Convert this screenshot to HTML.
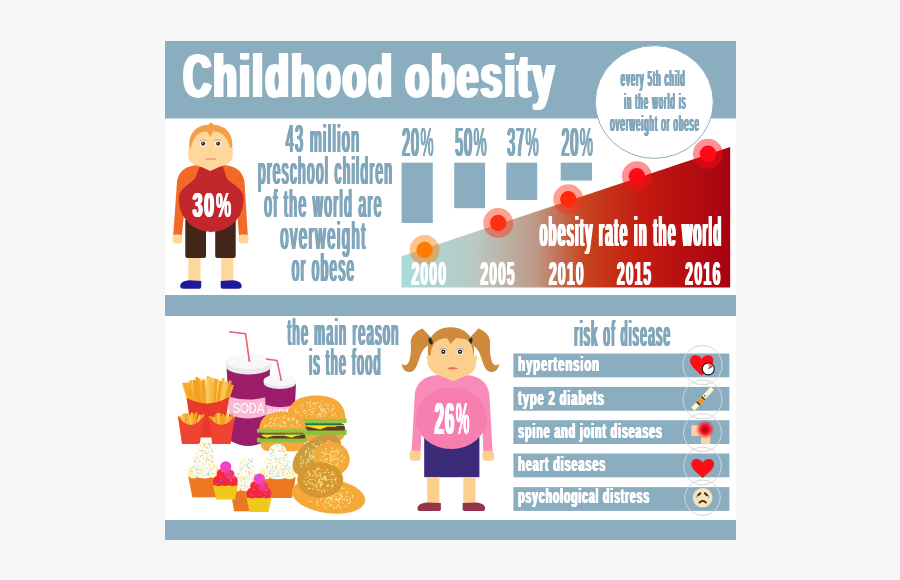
<!DOCTYPE html>
<html lang="en">
<head>
<meta charset="utf-8">
<title>Childhood obesity</title>
<style>
html,body{margin:0;padding:0;background:#f6f6f6;}
body{width:900px;height:580px;overflow:hidden;}
svg{display:block;}
text{font-family:"Liberation Sans",sans-serif;font-weight:bold;}
.bl{fill:#82a7bb;}
.wh{fill:#ffffff;}
.rg{font-weight:normal;}
</style>
</head>
<body>
<svg width="900" height="580" viewBox="0 0 900 580">
<defs>
<linearGradient id="tri" x1="401" y1="0" x2="736" y2="0" gradientUnits="userSpaceOnUse">
<stop offset="0" stop-color="#a9dcdc"/>
<stop offset="0.22" stop-color="#b9c9c2"/>
<stop offset="0.40" stop-color="#bf9a88"/>
<stop offset="0.55" stop-color="#c6431f"/>
<stop offset="0.72" stop-color="#c41a10"/>
<stop offset="1" stop-color="#a50012"/>
</linearGradient>
<linearGradient id="gsec" x1="0" y1="1" x2="1" y2="0"><stop offset="0" stop-color="#ffd6d6"/><stop offset="1" stop-color="#f0203a"/></linearGradient>
<radialGradient id="spot"><stop offset="0" stop-color="#b00010"/><stop offset="0.45" stop-color="#f01020"/><stop offset="1" stop-color="#ff2030" stop-opacity="0"/></radialGradient>
</defs>
<rect x="0" y="0" width="900" height="580" fill="#f6f6f6"/>
<rect x="165" y="41" width="571" height="499" fill="#ffffff"/>
<rect x="165" y="41" width="571" height="77.5" fill="#8aaec0"/>
<rect x="165" y="295" width="571" height="21" fill="#8aaec0"/>
<rect x="165" y="520" width="571" height="20" fill="#8aaec0"/>
<g id="title"><text id="t1" class="wh" x="183.4" y="97" font-size="61" textLength="373.1" lengthAdjust="spacingAndGlyphs" letter-spacing="4" word-spacing="-3">Childhood obesity</text><use href="#t1" x="-2"/><use href="#t1" x="2"/><use href="#t1" x="-0.5"/><use href="#t1" x="0.5"/>
</g>
<g id="bubble"><ellipse cx="654.3" cy="102" rx="59" ry="56.4" fill="#ffffff" stroke="#8aaec0" stroke-width="1"/>
<text id="t2" class="bl rg" x="620.8" y="85.9" font-size="22" textLength="64.8" lengthAdjust="spacingAndGlyphs" letter-spacing="3">every 5th child</text><use href="#t2" x="-0.7"/><use href="#t2" x="0.7"/><use href="#t2" x="-0.4"/><use href="#t2" x="0.4"/><use href="#t2" x="-0.1"/><use href="#t2" x="0.1"/>
<text id="t3" class="bl rg" x="624.2" y="108.5" font-size="22" textLength="62.3" lengthAdjust="spacingAndGlyphs" letter-spacing="3">in the world is</text><use href="#t3" x="-0.7"/><use href="#t3" x="0.7"/><use href="#t3" x="-0.4"/><use href="#t3" x="0.4"/><use href="#t3" x="-0.1"/><use href="#t3" x="0.1"/>
<text id="t4" class="bl rg" x="610.2" y="131" font-size="22" textLength="89.8" lengthAdjust="spacingAndGlyphs" letter-spacing="3">overweight or obese</text><use href="#t4" x="-0.7"/><use href="#t4" x="0.7"/><use href="#t4" x="-0.4"/><use href="#t4" x="0.4"/><use href="#t4" x="-0.1"/><use href="#t4" x="0.1"/>
</g>
<g id="t43"><text id="t5" class="bl rg" x="285.9" y="151.7" font-size="38.5" textLength="74.8" lengthAdjust="spacingAndGlyphs" letter-spacing="4.5">43 million</text><use href="#t5" x="-0.9"/><use href="#t5" x="0.9"/><use href="#t5" x="-0.5"/><use href="#t5" x="0.5"/><use href="#t5" x="-0.1"/><use href="#t5" x="0.1"/>
<text id="t6" class="bl rg" x="258.1" y="184.2" font-size="38.5" textLength="135.3" lengthAdjust="spacingAndGlyphs" letter-spacing="4.5">preschool children</text><use href="#t6" x="-0.9"/><use href="#t6" x="0.9"/><use href="#t6" x="-0.5"/><use href="#t6" x="0.5"/><use href="#t6" x="-0.1"/><use href="#t6" x="0.1"/>
<text id="t7" class="bl rg" x="264.3" y="216.9" font-size="38.5" textLength="118.6" lengthAdjust="spacingAndGlyphs" letter-spacing="4.5">of the world are</text><use href="#t7" x="-0.9"/><use href="#t7" x="0.9"/><use href="#t7" x="-0.5"/><use href="#t7" x="0.5"/><use href="#t7" x="-0.1"/><use href="#t7" x="0.1"/>
<text id="t8" class="bl rg" x="280.4" y="249.1" font-size="38.5" textLength="86.6" lengthAdjust="spacingAndGlyphs" letter-spacing="4.5">overweight</text><use href="#t8" x="-0.9"/><use href="#t8" x="0.9"/><use href="#t8" x="-0.5"/><use href="#t8" x="0.5"/><use href="#t8" x="-0.1"/><use href="#t8" x="0.1"/>
<text id="t9" class="bl rg" x="291.8" y="281.3" font-size="38.5" textLength="63.8" lengthAdjust="spacingAndGlyphs" letter-spacing="4.5">or obese</text><use href="#t9" x="-0.9"/><use href="#t9" x="0.9"/><use href="#t9" x="-0.5"/><use href="#t9" x="0.5"/><use href="#t9" x="-0.1"/><use href="#t9" x="0.1"/>
</g>
<g id="bars"><g fill="#8aaec0">
<rect x="401.6" y="162.7" width="31.2" height="60.3"/>
<rect x="454.2" y="162.7" width="30.9" height="45.5"/>
<rect x="506.3" y="162.7" width="30.9" height="37.3"/>
<rect x="560.7" y="162.7" width="31.3" height="17.9"/>
</g>
<clipPath id="c10"><rect x="398.3" y="115.8" width="21.58" height="52.65"/></clipPath><text id="t10" class="bl rg" y="156.3" font-size="40.5"><tspan x="402.3" textLength="17.7" lengthAdjust="spacingAndGlyphs" letter-spacing="3.5">20</tspan><tspan x="420.4" textLength="13.2" lengthAdjust="spacingAndGlyphs">%</tspan></text><use href="#t10" x="-0.95" clip-path="url(#c10)"/><use href="#t10" x="0.95" clip-path="url(#c10)"/><use href="#t10" x="-0.55" clip-path="url(#c10)"/><use href="#t10" x="0.55" clip-path="url(#c10)"/><use href="#t10" x="-0.45"/><use href="#t10" x="0.45"/>
<clipPath id="c11"><rect x="451.4" y="115.8" width="21.58" height="52.65"/></clipPath><text id="t11" class="bl rg" y="156.3" font-size="40.5"><tspan x="455.4" textLength="17.7" lengthAdjust="spacingAndGlyphs" letter-spacing="3.5">50</tspan><tspan x="473.5" textLength="13.2" lengthAdjust="spacingAndGlyphs">%</tspan></text><use href="#t11" x="-0.95" clip-path="url(#c11)"/><use href="#t11" x="0.95" clip-path="url(#c11)"/><use href="#t11" x="-0.55" clip-path="url(#c11)"/><use href="#t11" x="0.55" clip-path="url(#c11)"/><use href="#t11" x="-0.45"/><use href="#t11" x="0.45"/>
<clipPath id="c12"><rect x="503.4" y="115.8" width="21.58" height="52.65"/></clipPath><text id="t12" class="bl rg" y="156.3" font-size="40.5"><tspan x="507.4" textLength="17.7" lengthAdjust="spacingAndGlyphs" letter-spacing="3.5">37</tspan><tspan x="525.5" textLength="13.2" lengthAdjust="spacingAndGlyphs">%</tspan></text><use href="#t12" x="-0.95" clip-path="url(#c12)"/><use href="#t12" x="0.95" clip-path="url(#c12)"/><use href="#t12" x="-0.55" clip-path="url(#c12)"/><use href="#t12" x="0.55" clip-path="url(#c12)"/><use href="#t12" x="-0.45"/><use href="#t12" x="0.45"/>
<clipPath id="c13"><rect x="557.6" y="115.8" width="21.58" height="52.65"/></clipPath><text id="t13" class="bl rg" y="156.3" font-size="40.5"><tspan x="561.6" textLength="17.7" lengthAdjust="spacingAndGlyphs" letter-spacing="3.5">20</tspan><tspan x="579.7" textLength="13.2" lengthAdjust="spacingAndGlyphs">%</tspan></text><use href="#t13" x="-0.95" clip-path="url(#c13)"/><use href="#t13" x="0.95" clip-path="url(#c13)"/><use href="#t13" x="-0.55" clip-path="url(#c13)"/><use href="#t13" x="0.55" clip-path="url(#c13)"/><use href="#t13" x="-0.45"/><use href="#t13" x="0.45"/>
</g>
<g id="chart"><polygon points="401.5,256.3 730.2,147 730.2,287.5 401.5,287.5" fill="url(#tri)"/>
<circle cx="424.6" cy="250" r="15" fill="#ff7a00" fill-opacity="0.45"/><circle cx="424.6" cy="250" r="8.2" fill="#ff7a00"/>
<circle cx="498.2" cy="223" r="15" fill="#ff3010" fill-opacity="0.45"/><circle cx="498.2" cy="223" r="8.2" fill="#ff3010"/>
<circle cx="568.3" cy="199.3" r="15" fill="#ff2a0a" fill-opacity="0.45"/><circle cx="568.3" cy="199.3" r="8.2" fill="#ff2a0a"/>
<circle cx="636.9" cy="176.3" r="15" fill="#ff0a14" fill-opacity="0.45"/><circle cx="636.9" cy="176.3" r="8.2" fill="#ff0a14"/>
<circle cx="708" cy="153.8" r="15" fill="#ff0a14" fill-opacity="0.45"/><circle cx="708" cy="153.8" r="8.2" fill="#ff0a14"/>
<text id="t14" class="wh" x="411.5" y="285.4" font-size="33.5" textLength="35.9" lengthAdjust="spacingAndGlyphs" letter-spacing="3">2000</text><use href="#t14" x="-0.65"/><use href="#t14" x="0.65"/>
<text id="t15" class="wh" x="480.5" y="285.4" font-size="33.5" textLength="35.3" lengthAdjust="spacingAndGlyphs" letter-spacing="3">2005</text><use href="#t15" x="-0.65"/><use href="#t15" x="0.65"/>
<text id="t16" class="wh" x="549" y="285.4" font-size="33.5" textLength="35.9" lengthAdjust="spacingAndGlyphs" letter-spacing="3">2010</text><use href="#t16" x="-0.65"/><use href="#t16" x="0.65"/>
<text id="t17" class="wh" x="617" y="285.4" font-size="33.5" textLength="35.3" lengthAdjust="spacingAndGlyphs" letter-spacing="3">2015</text><use href="#t17" x="-0.65"/><use href="#t17" x="0.65"/>
<text id="t18" class="wh" x="685.2" y="285.4" font-size="33.5" textLength="36.5" lengthAdjust="spacingAndGlyphs" letter-spacing="3">2016</text><use href="#t18" x="-0.65"/><use href="#t18" x="0.65"/>
<text id="t19" class="wh rg" x="539.9" y="246.3" font-size="40" textLength="182.8" lengthAdjust="spacingAndGlyphs" letter-spacing="5.5">obesity rate in the world</text><use href="#t19" x="-1.15"/><use href="#t19" x="1.15"/><use href="#t19" x="-0.75"/><use href="#t19" x="0.75"/><use href="#t19" x="-0.35"/><use href="#t19" x="0.35"/>
</g>
<g id="boy"><path d="M189.6,150 C187.5,137 193,124.6 210.5,124.6 C228.5,124.6 234,137 231.9,150 Z" fill="#f4a04a"/>
<path d="M206.5,126 L211.2,122.3 L214.5,126 Z" fill="#f4a04a"/>
<circle cx="189.8" cy="149.5" r="1.8" fill="#fdd79c"/><circle cx="231.6" cy="149.5" r="1.8" fill="#fdd79c"/>
<path d="M199,165 C189,165.3 178.6,169 177,182 L173.2,235.5 L181.8,235.5 L185,205 L236.5,205 L239,235.5 L247.8,235.5 L244.5,182 C243,169 232,165.3 222.5,165 Z" fill="#f26a27"/>
<path d="M185.3,220 L235.7,220 L235.7,256 Q235.7,258 233.7,258 L217.2,258 Q215.2,258 215.2,256 L215.2,231 L206,231 L206,256 Q206,258 204,258 L187.3,258 Q185.3,258 185.3,256 Z" fill="#42261a"/>
<path d="M200.2,165 L222.4,165 L226.9,178.7 C231,183 240,187 243.3,194.5 A32.5,32.5 0 1 1 179.1,194.5 C182.4,187 191,183 194.9,178.7 Z" fill="#c1272d"/>
<path d="M191,147.5 C193,137 199,131.5 207,131.5 L210.4,137 L213.2,131.5 C221.5,131.5 227.5,137 230.2,147.5 C234,151 233.5,159 229.5,162.5 C226,165.5 221,166 218,167.6 L210.3,171 L202.5,167.6 C199,166 194.5,165.5 191,162.5 C187.2,159 187,151 191,147.5 Z" fill="#fdd79c"/>
<path d="M199.9,140.6 Q203.1,139.2 206.3,140.6" stroke="#c98a4a" stroke-width="0.8" fill="none"/><circle cx="203.1" cy="143.5" r="3.1" fill="#ffffff"/><circle cx="203.1" cy="143.6" r="2.1" fill="#2b3140"/><circle cx="202.6" cy="143" r="0.6" fill="#ffffff"/>
<path d="M214.9,140.6 Q218.1,139.2 221.3,140.6" stroke="#c98a4a" stroke-width="0.8" fill="none"/><circle cx="218.1" cy="143.5" r="3.1" fill="#ffffff"/><circle cx="218.1" cy="143.6" r="2.1" fill="#2b3140"/><circle cx="217.6" cy="143" r="0.6" fill="#ffffff"/>
<path d="M210.6,146 L210.2,153.5" stroke="#f9cd92" stroke-width="1.2" fill="none"/>
<path d="M206.2,159 L215.2,159" stroke="#f5a983" stroke-width="1.9" stroke-linecap="round" fill="none"/>
<rect x="172.4" y="234.6" width="9.9" height="9" rx="3" fill="#fdd79c"/><rect x="238.6" y="234.6" width="9.9" height="9" rx="3" fill="#fdd79c"/>
<rect x="188.3" y="258" width="12.2" height="24" fill="#fdd79c"/><rect x="221.2" y="258" width="12.2" height="24" fill="#fdd79c"/>
<path d="M183.5,288.8 Q179.8,288.8 180.3,285.3 Q181,281 189.5,280.3 L201.2,281 L201.2,287 Q201.2,288.8 199.4,288.8 Z" fill="#1c1a9c"/><path d="M220.7,281 L232.4,280.3 Q240.9,281 241.6,285.3 Q242.1,288.8 238.4,288.8 L222.5,288.8 Q220.7,288.8 220.7,287 Z" fill="#1c1a9c"/>
<clipPath id="c20"><rect x="188.7" y="182.1" width="26.72" height="45.5"/></clipPath><text id="t20" class="wh" y="217.1" font-size="35"><tspan x="192.7" textLength="22.9" lengthAdjust="spacingAndGlyphs" letter-spacing="3">30</tspan><tspan x="215.9" textLength="15.3" lengthAdjust="spacingAndGlyphs">%</tspan></text><use href="#t20" x="-0.85" clip-path="url(#c20)"/><use href="#t20" x="0.85" clip-path="url(#c20)"/><use href="#t20" x="-0.3"/><use href="#t20" x="0.3"/>
</g>
<g id="lowertext"><text id="t21" class="bl rg" x="287.6" y="344.7" font-size="36" textLength="112.3" lengthAdjust="spacingAndGlyphs" letter-spacing="4.5">the main reason</text><use href="#t21" x="-0.9"/><use href="#t21" x="0.9"/><use href="#t21" x="-0.5"/><use href="#t21" x="0.5"/><use href="#t21" x="-0.1"/><use href="#t21" x="0.1"/>
<text id="t22" class="bl rg" x="309.3" y="374.7" font-size="36" textLength="72.6" lengthAdjust="spacingAndGlyphs" letter-spacing="4.5">is the food</text><use href="#t22" x="-0.9"/><use href="#t22" x="0.9"/><use href="#t22" x="-0.5"/><use href="#t22" x="0.5"/><use href="#t22" x="-0.1"/><use href="#t22" x="0.1"/>
<text id="t23" class="bl rg" x="574.5" y="346.1" font-size="35" textLength="97.1" lengthAdjust="spacingAndGlyphs" letter-spacing="4.5">risk of disease</text><use href="#t23" x="-0.9"/><use href="#t23" x="0.9"/><use href="#t23" x="-0.5"/><use href="#t23" x="0.5"/><use href="#t23" x="-0.1"/><use href="#t23" x="0.1"/>
</g>
<g id="rows"><g fill="#8aaec0">
<rect x="513.4" y="353.5" width="216" height="23.8"/>
<rect x="513.4" y="386.9" width="216" height="23.8"/>
<rect x="513.4" y="420.2" width="216" height="23.8"/>
<rect x="513.4" y="453.5" width="216" height="23.8"/>
<rect x="513.4" y="487.1" width="216" height="23.8"/>
</g>
<text id="t24" class="wh" x="518.2" y="371.1" font-size="20" textLength="81.7" lengthAdjust="spacingAndGlyphs" letter-spacing="1.5">hypertension</text><use href="#t24" x="-0.6"/><use href="#t24" x="0.6"/>
<text id="t25" class="wh" x="518.2" y="404.5" font-size="20" textLength="86.5" lengthAdjust="spacingAndGlyphs" letter-spacing="1.5">type 2 diabets</text><use href="#t25" x="-0.6"/><use href="#t25" x="0.6"/>
<text id="t26" class="wh" x="518.2" y="437.6" font-size="20" textLength="144.6" lengthAdjust="spacingAndGlyphs" letter-spacing="1.5">spine and joint diseases</text><use href="#t26" x="-0.6"/><use href="#t26" x="0.6"/>
<text id="t27" class="wh" x="518.2" y="471.1" font-size="20" textLength="88" lengthAdjust="spacingAndGlyphs" letter-spacing="1.5">heart diseases</text><use href="#t27" x="-0.6"/><use href="#t27" x="0.6"/>
<text id="t28" class="wh" x="518.2" y="502.8" font-size="20" textLength="131.8" lengthAdjust="spacingAndGlyphs" letter-spacing="1.5">psychological distress</text><use href="#t28" x="-0.6"/><use href="#t28" x="0.6"/>
</g>
<g id="icons"><path d="M701.7,359.276 C699.844,354.284 690.1,353.036 690.1,360.94 C690.1,366.14 697.524,371.34 701.7,375.5 C705.876,371.34 713.3,366.14 713.3,360.94 C713.3,353.036 703.556,354.284 701.7,359.276 Z" fill="#ff0d16"/>
<circle cx="708.3" cy="368.9" r="6" fill="#ffffff" stroke="#1a1a1a" stroke-width="1.1"/><path d="M708.3,368.9 L708.3,363.4 A5.5,5.5 0 0 1 713.1,366.2 Z" fill="url(#gsec)"/><path d="M708.3,368.9 L712.2,366.4" stroke="#1a1a1a" stroke-width="0.8" fill="none"/>
<g transform="translate(702.6,398.7) rotate(-47)"><rect x="-14.3" y="-2.3" width="28.6" height="4.6" fill="#fff6d0"/><rect x="-6" y="-2.3" width="6.4" height="4.6" fill="#f7941d"/><rect x="-7" y="-2.3" width="1.3" height="4.6" fill="#1a1a1a"/><rect x="0.2" y="-2.3" width="1.3" height="4.6" fill="#1a1a1a"/><rect x="3.2" y="-1.2" width="0.9" height="1.6" fill="#1a1a1a"/></g>
<path d="M691.3,425.3 L710.4,425.3 L710.4,444 L701,444 L701,436 L691.3,436 Z" fill="#fbd3a0"/><circle cx="705.2" cy="429.4" r="9.5" fill="url(#spot)"/>
<path d="M702.7,462.712 C700.876,458.008 691.3,456.832 691.3,464.28 C691.3,469.18 698.596,474.08 702.7,478 C706.804,474.08 714.1,469.18 714.1,464.28 C714.1,456.832 704.524,458.008 702.7,462.712 Z" fill="#ff0d16"/>
<circle cx="702.6" cy="497.7" r="9.8" fill="#fbe0b8"/><path d="M698.2,495.2 L700.3,493.2 M707,495.2 L704.9,493.2" stroke="#2a2a2a" stroke-width="2" stroke-linecap="round" fill="none"/><path d="M697,494.6 Q695.4,497.2 696.9,498.2 Q698.5,497.4 697,494.6 Z M708.4,494.6 Q706.9,497.4 708.5,498.2 Q710,497.2 708.4,494.6 Z" fill="#5ab8e8"/><path d="M699.4,502.6 Q702.7,499 706,502.6" stroke="#2a2a2a" stroke-width="1.7" fill="none" stroke-linecap="round"/>
</g>
<g id="iconcircles"><g fill="none" stroke="#d6d6d6" stroke-width="1">
<circle cx="702.5" cy="365.2" r="19.6"/>
<circle cx="702.5" cy="399.5" r="19.5"/>
<circle cx="702.5" cy="432.6" r="19"/>
<circle cx="702.5" cy="466" r="18.8"/>
<circle cx="702.5" cy="497.7" r="17.7"/>
</g>
</g>
<g id="girl"><path d="M431.5,338 L422.5,328.5 C416,331 410.6,336 410.8,342.5 C411,349 411.2,355 409.2,361 C407.8,365.5 404,366.5 401.8,363.6 C402,369.5 406,372.8 410.6,372 C416.2,371 418,362 421,354 C423.5,348 427,345.5 431.5,344.5 Z" fill="#cf8a3c"/>
<path d="M431.5,338 L422.5,328.5 C416,331 410.6,336 410.8,342.5 C411,349 411.2,355 409.2,361 C407.8,365.5 404,366.5 401.8,363.6 C402,369.5 406,372.8 410.6,372 C416.2,371 418,362 421,354 C423.5,348 427,345.5 431.5,344.5 Z" fill="#cf8a3c" transform="translate(900.9,0) scale(-1,1)"/>
<path d="M428.6,358 C425,340 434,327.3 450.6,327.3 C467.5,327.3 476.5,340 473.5,358 Z" fill="#cf8a3c"/>
<ellipse cx="430.6" cy="341.2" rx="1.9" ry="3.6" fill="#1f3324" transform="rotate(-18 430.6 341.2)"/><ellipse cx="470.4" cy="341.2" rx="1.9" ry="3.6" fill="#1f3324" transform="rotate(18 470.4 341.2)"/>
<path d="M438,375 C428,375.5 416.5,380 414.8,394.6 L411.6,451.5 L420.6,451.5 L421.6,430 L482.4,430 L483.3,451.5 L492.6,451.5 L489.4,394.6 C487.7,380 476,375.5 466,375 Z" fill="#f98bb8"/>
<rect x="424.2" y="430" width="55.2" height="47.2" fill="#3b2a78"/>
<ellipse cx="451.3" cy="418.3" rx="35.7" ry="30.7" fill="#f77fb0"/>
<circle cx="428.6" cy="357.5" r="2.2" fill="#fbd08f"/><circle cx="475.2" cy="357.5" r="2.2" fill="#fbd08f"/>
<path d="M430.4,355.4 C431.5,346 434.5,341.5 438.5,340 C442,338.5 444.5,338.3 447,338.3 L450.7,344 L455.8,338.3 C460,338.3 463.5,338.8 466.5,339.8 C470.5,341.5 472.5,346 473.3,354.2 C477.5,357.5 477.5,366 473,371.5 C469.5,375.5 464,376.5 460.5,378 L453.4,381.3 L446,378 C442.5,376.5 436.5,375.5 432.5,371.5 C426.5,366 426.3,358.5 430.4,355.4 Z" fill="#fbd08f"/>
<path d="M439.7,349.3 Q443.3,346.6 446.9,349.3 L446.5,350.5 Q443.3,348.6 440.1,350.5 Z" fill="#a79cc4"/><circle cx="443.3" cy="351.7" r="3" fill="#ffffff"/><circle cx="443.3" cy="351.8" r="2.2" fill="#221c2c"/><circle cx="443.3" cy="351.6" r="0.8" fill="#ffffff"/>
<path d="M456.5,349.3 Q460.1,346.6 463.7,349.3 L463.3,350.5 Q460.1,348.6 456.9,350.5 Z" fill="#a79cc4"/><circle cx="460.1" cy="351.7" r="3" fill="#ffffff"/><circle cx="460.1" cy="351.8" r="2.2" fill="#221c2c"/><circle cx="460.1" cy="351.6" r="0.8" fill="#ffffff"/>
<path d="M452,354.5 L451.7,361.5" stroke="#f7c784" stroke-width="1.2" fill="none"/>
<path d="M447.6,368.4 Q452.4,366.6 457.4,368.4 Q452.4,370 447.6,368.4 Z" fill="#ee6a5a" stroke="#ee6a5a" stroke-width="0.8" stroke-linejoin="round"/>
<rect x="409.6" y="450.8" width="11.2" height="10" rx="3" fill="#fbd08f"/><rect x="482.6" y="450.8" width="11.4" height="10" rx="3" fill="#fbd08f"/>
<rect x="427.2" y="477" width="12.2" height="26.5" fill="#fbd08f"/><rect x="463.3" y="477" width="12.2" height="26.5" fill="#fbd08f"/>
<path d="M420.6,511 Q417,511 417.5,507.6 Q418.2,503.2 426.5,502.4 L440.9,503 L440.9,509.2 Q440.9,511 439.1,511 Z" fill="#96344b"/><path d="M462.6,503 L477,502.4 Q484.4,503.2 485.1,507.6 Q485.6,511 482,511 L464.4,511 Q462.6,511 462.6,509.2 Z" fill="#96344b"/>
<clipPath id="c29"><rect x="430.6" y="389.9" width="24.72" height="57.2"/></clipPath><text id="t29" class="wh" y="433.9" font-size="44"><tspan x="434.6" textLength="20.9" lengthAdjust="spacingAndGlyphs" letter-spacing="3">26</tspan><tspan x="455.8" textLength="13.7" lengthAdjust="spacingAndGlyphs">%</tspan></text><use href="#t29" x="-0.8" clip-path="url(#c29)"/><use href="#t29" x="0.8" clip-path="url(#c29)"/><use href="#t29" x="-0.3"/><use href="#t29" x="0.3"/>
</g>
<g id="food"><path d="M226.5,366 L270.2,366 L266,441 Q248.3,451 230.7,441 Z" fill="#9b1d6a"/>
<path d="M228.1,396.6 Q248.3,402.6 268.6,396.6 L267.6,414.4 Q248.3,422.4 229.2,414.4 Z" fill="#f9b8d6"/>
<text x="232.8" y="413" class="rg" font-size="14" fill="#ffffff" textLength="31.5" lengthAdjust="spacingAndGlyphs">SODA</text>
<path d="M225.8,361.5 L225.8,366 A22.8,8.4 0 0 0 271.4,366 L271.4,361.5 Z" fill="#e9e9ed"/><ellipse cx="248.6" cy="361.3" rx="22.8" ry="7.6" fill="#f8f8fa"/>
<ellipse cx="249.3" cy="361" rx="1.6" ry="0.8" fill="#9a9aa2"/><polyline points="229.2,331.7 245.6,333.8 249.3,360.9" fill="none" stroke="#f15a6c" stroke-width="1.6" stroke-linejoin="round"/>
<path d="M264.5,384 L296,384 L293,446 L267.5,446 Z" fill="#9b1d6a"/>
<path d="M265.4,404.8 Q280.2,409.6 295,404.8 L294.4,417 Q280.2,422 266,417 Z" fill="#f9b8d6"/>
<text x="267.4" y="416.8" class="rg" font-size="10" fill="#ffffff" textLength="22" lengthAdjust="spacingAndGlyphs">SODA</text>
<path d="M263.7,380.5 L263.7,383 A16.15,6 0 0 0 296,383 L296,380.5 Z" fill="#e9e9ed"/><ellipse cx="279.85" cy="380.2" rx="16.2" ry="5.7" fill="#f8f8fa"/>
<ellipse cx="281.2" cy="380" rx="1.4" ry="0.7" fill="#9a9aa2"/><polyline points="266.1,359.1 277,360.4 281.2,379.9" fill="none" stroke="#f15a6c" stroke-width="1.5" stroke-linejoin="round"/>
<path d="M186.6,398 L229.1,396.5 L227,404 L189,404 Z" fill="#b8402e"/>
<line x1="198.6" y1="405.0" x2="196.2" y2="380.3" stroke="#f6a623" stroke-width="2.9"/><line x1="219.1" y1="405.0" x2="223.4" y2="378.1" stroke="#f9bd45" stroke-width="2.9"/><line x1="224.3" y1="405.0" x2="230.4" y2="380.7" stroke="#f4a020" stroke-width="2.9"/><line x1="215.7" y1="405.0" x2="217.8" y2="379.4" stroke="#fbc95a" stroke-width="2.9"/><line x1="202.0" y1="405.0" x2="199.0" y2="378.3" stroke="#f7b23a" stroke-width="2.9"/><line x1="214.0" y1="405.0" x2="216.3" y2="379.0" stroke="#f5a21c" stroke-width="2.9"/><line x1="226.0" y1="405.0" x2="232.6" y2="384.9" stroke="#f6a623" stroke-width="2.9"/><line x1="222.6" y1="405.0" x2="226.9" y2="382.3" stroke="#f9bd45" stroke-width="2.9"/><line x1="200.3" y1="405.0" x2="196.8" y2="377.1" stroke="#f4a020" stroke-width="2.9"/><line x1="220.9" y1="405.0" x2="226.0" y2="381.4" stroke="#fbc95a" stroke-width="2.9"/><line x1="212.3" y1="405.0" x2="214.1" y2="378.3" stroke="#f7b23a" stroke-width="2.9"/><line x1="217.4" y1="405.0" x2="220.9" y2="381.0" stroke="#f5a21c" stroke-width="2.9"/><line x1="203.7" y1="405.0" x2="202.1" y2="380.5" stroke="#f6a623" stroke-width="2.9"/><line x1="190.0" y1="405.0" x2="183.2" y2="382.7" stroke="#f9bd45" stroke-width="2.9"/><line x1="205.4" y1="405.0" x2="203.7" y2="379.5" stroke="#f4a020" stroke-width="2.9"/><line x1="208.9" y1="405.0" x2="208.2" y2="377.0" stroke="#fbc95a" stroke-width="2.9"/><line x1="195.1" y1="405.0" x2="190.5" y2="380.3" stroke="#f7b23a" stroke-width="2.9"/><line x1="193.4" y1="405.0" x2="188.0" y2="382.5" stroke="#f5a21c" stroke-width="2.9"/><line x1="191.7" y1="405.0" x2="184.8" y2="383.0" stroke="#f6a623" stroke-width="2.9"/><line x1="210.6" y1="405.0" x2="210.7" y2="377.3" stroke="#f9bd45" stroke-width="2.9"/><line x1="196.9" y1="405.0" x2="193.9" y2="379.9" stroke="#f4a020" stroke-width="2.9"/><line x1="207.1" y1="405.0" x2="207.9" y2="375.9" stroke="#fbc95a" stroke-width="2.9"/>
<path d="M186.6,398 Q208,409.4 229.1,396.8 L223.5,437.5 L192.5,437.5 Z" fill="#e8392b"/>
<line x1="199.5" y1="427.0" x2="203.6" y2="414.3" stroke="#f6a623" stroke-width="2.3"/><line x1="184.5" y1="427.0" x2="182.7" y2="413.9" stroke="#f9bd45" stroke-width="2.3"/><line x1="183.0" y1="427.0" x2="180.2" y2="416.5" stroke="#f4a020" stroke-width="2.3"/><line x1="190.5" y1="427.0" x2="190.4" y2="414.6" stroke="#fbc95a" stroke-width="2.3"/><line x1="181.5" y1="427.0" x2="178.8" y2="415.7" stroke="#f7b23a" stroke-width="2.3"/><line x1="186.0" y1="427.0" x2="185.3" y2="413.5" stroke="#f5a21c" stroke-width="2.3"/><line x1="187.5" y1="427.0" x2="186.6" y2="413.8" stroke="#f6a623" stroke-width="2.3"/><line x1="192.0" y1="427.0" x2="191.9" y2="412.5" stroke="#f9bd45" stroke-width="2.3"/><line x1="198.0" y1="427.0" x2="201.6" y2="415.1" stroke="#f4a020" stroke-width="2.3"/><line x1="196.5" y1="427.0" x2="199.9" y2="414.8" stroke="#fbc95a" stroke-width="2.3"/><line x1="189.0" y1="427.0" x2="187.6" y2="413.1" stroke="#f7b23a" stroke-width="2.3"/><line x1="195.0" y1="427.0" x2="196.3" y2="412.4" stroke="#f5a21c" stroke-width="2.3"/><line x1="193.5" y1="427.0" x2="194.5" y2="414.1" stroke="#f6a623" stroke-width="2.3"/>
<path d="M177.9,416.3 Q190.7,433.6 203.5,416.3 L199.8,444 L182,444 Z" fill="#f04432"/>
<line x1="224.8" y1="427.0" x2="224.9" y2="415.5" stroke="#f6a623" stroke-width="2.3"/><line x1="226.4" y1="427.0" x2="227.4" y2="413.2" stroke="#f9bd45" stroke-width="2.3"/><line x1="223.3" y1="427.0" x2="223.0" y2="413.8" stroke="#f4a020" stroke-width="2.3"/><line x1="218.7" y1="427.0" x2="217.7" y2="412.9" stroke="#fbc95a" stroke-width="2.3"/><line x1="227.9" y1="427.0" x2="229.4" y2="416.6" stroke="#f7b23a" stroke-width="2.3"/><line x1="214.0" y1="427.0" x2="212.1" y2="416.4" stroke="#f5a21c" stroke-width="2.3"/><line x1="212.5" y1="427.0" x2="209.5" y2="416.3" stroke="#f6a623" stroke-width="2.3"/><line x1="215.6" y1="427.0" x2="214.1" y2="417.1" stroke="#f9bd45" stroke-width="2.3"/><line x1="217.1" y1="427.0" x2="215.8" y2="414.5" stroke="#f4a020" stroke-width="2.3"/><line x1="231.0" y1="427.0" x2="234.4" y2="416.0" stroke="#fbc95a" stroke-width="2.3"/><line x1="220.2" y1="427.0" x2="219.6" y2="413.1" stroke="#f7b23a" stroke-width="2.3"/><line x1="221.8" y1="427.0" x2="221.0" y2="415.9" stroke="#f5a21c" stroke-width="2.3"/><line x1="229.5" y1="427.0" x2="232.3" y2="413.6" stroke="#f6a623" stroke-width="2.3"/>
<path d="M208.3,416.3 Q221.6,433.6 235,415.8 L230.6,444 L212.3,444 Z" fill="#f04432"/>
<path d="M288.2,434 L344.4,434 Q344.4,441 335.4,441 L297.2,441 Q288.2,441 288.2,434 Z" fill="#f4a93a"/>
<path d="M284.9,429.54 L346.6,429.54 L346.6,434.3 Q344.396,436.5 342.193,434.3 Q339.989,436.5 337.786,434.3 Q335.582,436.5 333.379,434.3 Q331.175,436.5 328.971,434.3 Q326.768,436.5 324.564,434.3 Q322.361,436.5 320.157,434.3 Q317.954,436.5 315.75,434.3 Q313.546,436.5 311.343,434.3 Q309.139,436.5 306.936,434.3 Q304.732,436.5 302.529,434.3 Q300.325,436.5 298.121,434.3 Q295.918,436.5 293.714,434.3 Q291.511,436.5 289.307,434.3 Q287.104,436.5 284.9,434.3 Z" fill="#86c440"/>
<rect x="287.7" y="425.8" width="57.2" height="4.59" rx="1.2" fill="#6a3a20"/>
<path d="M295.2,425.12 L340.4,425.12 L335.4,426.82 L327.3,426.82 L320.3,429.54 L308.3,426.82 Z" fill="#f7e11a"/>
<rect x="288.7" y="423.93" width="55.2" height="1.36" fill="#1f7a3c"/>
<rect x="290.2" y="422.23" width="52.2" height="1.87" rx="0.8" fill="#e83a2e"/>
<path d="M284.9,418.7 Q286.957,417.1 289.013,418.7 Q291.07,417.1 293.127,418.7 Q295.183,417.1 297.24,418.7 Q299.297,417.1 301.353,418.7 Q303.41,417.1 305.467,418.7 Q307.523,417.1 309.58,418.7 Q311.637,417.1 313.693,418.7 Q315.75,417.1 317.807,418.7 Q319.863,417.1 321.92,418.7 Q323.977,417.1 326.033,418.7 Q328.09,417.1 330.147,418.7 Q332.203,417.1 334.26,418.7 Q336.317,417.1 338.373,418.7 Q340.43,417.1 342.487,418.7 Q344.543,417.1 346.6,418.7 L346.6,422.4 Q344.543,424 342.487,422.4 Q340.43,424 338.373,422.4 Q336.317,424 334.26,422.4 Q332.203,424 330.147,422.4 Q328.09,424 326.033,422.4 Q323.977,424 321.92,422.4 Q319.863,424 317.807,422.4 Q315.75,424 313.693,422.4 Q311.637,424 309.58,422.4 Q307.523,424 305.467,422.4 Q303.41,424 301.353,422.4 Q299.297,424 297.24,422.4 Q295.183,424 293.127,422.4 Q291.07,424 289.013,422.4 Q286.957,424 284.9,422.4 Z" fill="#8dc944"/>
<path d="M287.2,419 C287.2,401.375 300.295,395.5 316.3,395.5 C332.305,395.5 345.4,401.375 345.4,419 Z" fill="#f4a93a"/>
<g fill="#fbe79a"><circle cx="327.9" cy="408.6" r="0.6"/><circle cx="310.8" cy="404.6" r="0.5"/><circle cx="336.7" cy="415.9" r="0.5"/><circle cx="333.1" cy="405.3" r="0.6"/><circle cx="303.6" cy="411.3" r="0.7"/><circle cx="331.7" cy="410.7" r="0.8"/><circle cx="314.9" cy="402.6" r="0.7"/><circle cx="335.1" cy="413.7" r="0.7"/><circle cx="318.0" cy="414.8" r="0.8"/><circle cx="317.9" cy="402.9" r="0.8"/><circle cx="302.8" cy="404.1" r="0.6"/><circle cx="305.0" cy="410.5" r="0.8"/><circle cx="311.1" cy="415.0" r="0.5"/><circle cx="333.6" cy="406.2" r="0.6"/><circle cx="312.0" cy="409.0" r="0.6"/><circle cx="320.5" cy="408.2" r="0.7"/><circle cx="310.7" cy="401.4" r="0.7"/><circle cx="296.1" cy="413.1" r="0.8"/><circle cx="312.4" cy="411.7" r="0.8"/><circle cx="295.1" cy="414.8" r="0.6"/><circle cx="310.7" cy="411.4" r="0.7"/><circle cx="313.9" cy="408.9" r="0.5"/><circle cx="296.1" cy="409.2" r="0.5"/><circle cx="305.5" cy="410.8" r="0.5"/><circle cx="328.0" cy="405.2" r="0.8"/><circle cx="333.1" cy="414.8" r="0.5"/><circle cx="308.9" cy="409.9" r="0.8"/><circle cx="301.3" cy="415.8" r="0.8"/><circle cx="319.0" cy="413.5" r="0.7"/><circle cx="324.8" cy="415.9" r="0.6"/><circle cx="313.8" cy="411.4" r="0.5"/><circle cx="305.9" cy="413.1" r="0.8"/><circle cx="304.3" cy="413.5" r="0.6"/><circle cx="315.2" cy="403.7" r="0.7"/><circle cx="313.1" cy="404.2" r="0.8"/><circle cx="316.0" cy="406.5" r="0.7"/><circle cx="324.4" cy="411.0" r="0.8"/><circle cx="315.3" cy="404.9" r="0.5"/><circle cx="320.6" cy="404.9" r="0.5"/><circle cx="310.2" cy="404.7" r="0.5"/><circle cx="310.7" cy="406.8" r="0.7"/><circle cx="324.5" cy="404.4" r="0.7"/><circle cx="320.5" cy="416.3" r="0.7"/><circle cx="306.5" cy="415.7" r="0.6"/><circle cx="313.0" cy="408.4" r="0.6"/><circle cx="323.2" cy="408.9" r="0.7"/><circle cx="323.7" cy="409.0" r="0.7"/><circle cx="332.4" cy="415.5" r="0.7"/><circle cx="321.5" cy="410.9" r="0.7"/><circle cx="322.4" cy="412.3" r="0.6"/><circle cx="312.9" cy="413.1" r="0.6"/><circle cx="326.5" cy="403.6" r="0.6"/><circle cx="309.3" cy="414.0" r="0.6"/><circle cx="306.7" cy="402.7" r="0.6"/><circle cx="321.2" cy="413.5" r="0.6"/><circle cx="332.8" cy="408.2" r="0.7"/><circle cx="325.1" cy="412.3" r="0.7"/><circle cx="307.7" cy="403.3" r="0.6"/><circle cx="326.3" cy="413.3" r="0.7"/><circle cx="324.2" cy="409.9" r="0.6"/><circle cx="319.6" cy="407.1" r="0.8"/><circle cx="317.1" cy="416.2" r="0.8"/><circle cx="295.4" cy="410.4" r="0.6"/><circle cx="294.9" cy="414.0" r="0.5"/><circle cx="302.1" cy="405.8" r="0.7"/><circle cx="315.7" cy="408.6" r="0.6"/><circle cx="319.7" cy="414.3" r="0.7"/><circle cx="328.7" cy="405.0" r="0.5"/><circle cx="298.9" cy="412.5" r="0.8"/><circle cx="296.1" cy="411.5" r="0.7"/><circle cx="335.3" cy="415.9" r="0.5"/><circle cx="326.7" cy="406.0" r="0.6"/><circle cx="322.2" cy="401.1" r="0.7"/><circle cx="321.1" cy="410.1" r="0.8"/><circle cx="317.7" cy="402.2" r="0.6"/><circle cx="329.0" cy="409.9" r="0.7"/><circle cx="333.2" cy="409.1" r="0.8"/><circle cx="299.7" cy="408.0" r="0.5"/><circle cx="308.1" cy="402.5" r="0.5"/><circle cx="323.1" cy="410.8" r="0.6"/><circle cx="319.8" cy="406.2" r="0.7"/><circle cx="320.3" cy="416.5" r="0.5"/><circle cx="320.5" cy="415.2" r="0.8"/><circle cx="311.6" cy="414.8" r="0.6"/><circle cx="322.5" cy="409.5" r="0.6"/><circle cx="309.0" cy="405.7" r="0.6"/><circle cx="325.9" cy="411.7" r="0.5"/><circle cx="313.1" cy="403.1" r="0.6"/><circle cx="324.1" cy="415.0" r="0.6"/><circle cx="310.0" cy="402.9" r="0.6"/><circle cx="302.4" cy="409.2" r="0.6"/><circle cx="322.1" cy="406.4" r="0.7"/><circle cx="320.8" cy="403.5" r="0.6"/></g>
<path d="M260.3,441 L304.9,441 Q304.9,451.3 295.9,451.3 L269.3,451.3 Q260.3,451.3 260.3,441 Z" fill="#f4a93a"/>
<path d="M257,437.87 L307.1,437.87 L307.1,441.65 Q305.311,443.85 303.521,441.65 Q301.732,443.85 299.943,441.65 Q298.154,443.85 296.364,441.65 Q294.575,443.85 292.786,441.65 Q290.996,443.85 289.207,441.65 Q287.418,443.85 285.629,441.65 Q283.839,443.85 282.05,441.65 Q280.261,443.85 278.471,441.65 Q276.682,443.85 274.893,441.65 Q273.104,443.85 271.314,441.65 Q269.525,443.85 267.736,441.65 Q265.946,443.85 264.157,441.65 Q262.368,443.85 260.579,441.65 Q258.789,443.85 257,441.65 Z" fill="#86c440"/>
<rect x="259.8" y="434.9" width="45.6" height="3.645" rx="1.2" fill="#6a3a20"/>
<path d="M262.3,434.36 L301.9,434.36 L298.9,435.71 L296.6,435.71 L291.6,437.87 L284.6,435.71 L273.6,435.71 L266.6,437.87 L261.6,435.71 Z" fill="#f7e11a"/>
<rect x="260.8" y="433.415" width="43.6" height="1.08" fill="#1f7a3c"/>
<rect x="262.3" y="432.065" width="40.6" height="1.485" rx="0.8" fill="#e83a2e"/>
<path d="M257,429.2 Q258.67,427.6 260.34,429.2 Q262.01,427.6 263.68,429.2 Q265.35,427.6 267.02,429.2 Q268.69,427.6 270.36,429.2 Q272.03,427.6 273.7,429.2 Q275.37,427.6 277.04,429.2 Q278.71,427.6 280.38,429.2 Q282.05,427.6 283.72,429.2 Q285.39,427.6 287.06,429.2 Q288.73,427.6 290.4,429.2 Q292.07,427.6 293.74,429.2 Q295.41,427.6 297.08,429.2 Q298.75,427.6 300.42,429.2 Q302.09,427.6 303.76,429.2 Q305.43,427.6 307.1,429.2 L307.1,432.2 Q305.43,433.8 303.76,432.2 Q302.09,433.8 300.42,432.2 Q298.75,433.8 297.08,432.2 Q295.41,433.8 293.74,432.2 Q292.07,433.8 290.4,432.2 Q288.73,433.8 287.06,432.2 Q285.39,433.8 283.72,432.2 Q282.05,433.8 280.38,432.2 Q278.71,433.8 277.04,432.2 Q275.37,433.8 273.7,432.2 Q272.03,433.8 270.36,432.2 Q268.69,433.8 267.02,432.2 Q265.35,433.8 263.68,432.2 Q262.01,433.8 260.34,432.2 Q258.67,433.8 257,432.2 Z" fill="#8dc944"/>
<path d="M259.3,429.5 C259.3,416.225 269.785,411.8 282.6,411.8 C295.415,411.8 305.9,416.225 305.9,429.5 Z" fill="#f4a93a"/>
<g fill="#fbe79a"><circle cx="276.9" cy="418.1" r="0.7"/><circle cx="267.7" cy="425.3" r="0.8"/><circle cx="294.0" cy="426.3" r="0.8"/><circle cx="274.9" cy="417.4" r="0.5"/><circle cx="283.4" cy="422.1" r="0.6"/><circle cx="282.3" cy="426.2" r="0.5"/><circle cx="293.6" cy="418.7" r="0.7"/><circle cx="296.5" cy="422.2" r="0.5"/><circle cx="280.7" cy="423.9" r="0.5"/><circle cx="276.1" cy="425.2" r="0.5"/><circle cx="265.9" cy="426.4" r="0.6"/><circle cx="270.1" cy="426.0" r="0.7"/><circle cx="296.6" cy="420.4" r="0.7"/><circle cx="265.7" cy="425.9" r="0.6"/><circle cx="285.2" cy="423.5" r="0.5"/><circle cx="291.3" cy="425.9" r="0.7"/><circle cx="297.0" cy="426.9" r="0.6"/><circle cx="291.7" cy="418.6" r="0.6"/><circle cx="289.0" cy="420.8" r="0.7"/><circle cx="300.2" cy="425.0" r="0.5"/><circle cx="271.0" cy="419.7" r="0.5"/><circle cx="274.8" cy="423.1" r="0.7"/><circle cx="285.5" cy="426.9" r="0.5"/><circle cx="275.8" cy="426.4" r="0.7"/><circle cx="265.5" cy="424.6" r="0.6"/><circle cx="288.0" cy="420.0" r="0.7"/><circle cx="297.0" cy="423.8" r="0.7"/><circle cx="280.3" cy="426.3" r="0.8"/><circle cx="291.7" cy="425.3" r="0.7"/><circle cx="273.4" cy="425.5" r="0.8"/><circle cx="281.3" cy="421.4" r="0.6"/><circle cx="285.9" cy="425.7" r="0.5"/><circle cx="272.4" cy="417.5" r="0.5"/><circle cx="300.4" cy="425.3" r="0.6"/><circle cx="284.8" cy="422.4" r="0.7"/><circle cx="272.9" cy="423.3" r="0.6"/><circle cx="299.6" cy="425.1" r="0.5"/><circle cx="282.9" cy="416.7" r="0.5"/><circle cx="270.9" cy="418.7" r="0.7"/><circle cx="278.9" cy="425.2" r="0.6"/><circle cx="297.3" cy="422.3" r="0.6"/><circle cx="285.3" cy="415.7" r="0.7"/><circle cx="271.3" cy="426.5" r="0.6"/><circle cx="274.9" cy="421.5" r="0.6"/><circle cx="284.3" cy="423.6" r="0.6"/><circle cx="264.9" cy="426.6" r="0.7"/><circle cx="282.6" cy="421.0" r="0.5"/><circle cx="292.9" cy="419.6" r="0.8"/><circle cx="289.2" cy="418.0" r="0.7"/><circle cx="274.4" cy="419.7" r="0.7"/><circle cx="288.7" cy="418.6" r="0.5"/><circle cx="283.3" cy="417.2" r="0.7"/><circle cx="293.2" cy="418.2" r="0.7"/><circle cx="282.3" cy="426.2" r="0.6"/><circle cx="292.7" cy="420.6" r="0.6"/><circle cx="270.9" cy="422.2" r="0.7"/><circle cx="289.0" cy="419.2" r="0.7"/><circle cx="274.3" cy="423.9" r="0.7"/><circle cx="269.3" cy="423.4" r="0.8"/><circle cx="270.5" cy="426.0" r="0.6"/><circle cx="296.8" cy="421.9" r="0.8"/><circle cx="283.6" cy="417.9" r="0.7"/><circle cx="278.4" cy="424.0" r="0.7"/><circle cx="279.0" cy="418.3" r="0.6"/><circle cx="276.7" cy="417.9" r="0.7"/><circle cx="281.3" cy="426.0" r="0.5"/><circle cx="285.2" cy="418.3" r="0.5"/><circle cx="275.0" cy="419.8" r="0.5"/><circle cx="283.3" cy="422.3" r="0.5"/><circle cx="290.9" cy="424.7" r="0.5"/><circle cx="284.6" cy="426.1" r="0.6"/><circle cx="287.6" cy="419.1" r="0.7"/><circle cx="295.1" cy="419.7" r="0.5"/><circle cx="285.1" cy="421.9" r="0.6"/></g>
<path d="M188.1,476.3 L220,476.3 L215.8,497.3 L192.3,497.3 Z" fill="#f07e26"/><g stroke="#e56f1c" stroke-width="0.5"><line x1="189.8" y1="476.3" x2="193.5" y2="497.3"/><line x1="191.5" y1="476.3" x2="194.8" y2="497.3"/><line x1="193.1" y1="476.3" x2="196.0" y2="497.3"/><line x1="194.8" y1="476.3" x2="197.2" y2="497.3"/><line x1="196.5" y1="476.3" x2="198.5" y2="497.3"/><line x1="198.2" y1="476.3" x2="199.7" y2="497.3"/><line x1="199.9" y1="476.3" x2="201.0" y2="497.3"/><line x1="201.5" y1="476.3" x2="202.2" y2="497.3"/><line x1="203.2" y1="476.3" x2="203.4" y2="497.3"/><line x1="204.9" y1="476.3" x2="204.7" y2="497.3"/><line x1="206.6" y1="476.3" x2="205.9" y2="497.3"/><line x1="208.2" y1="476.3" x2="207.1" y2="497.3"/><line x1="209.9" y1="476.3" x2="208.4" y2="497.3"/><line x1="211.6" y1="476.3" x2="209.6" y2="497.3"/><line x1="213.3" y1="476.3" x2="210.9" y2="497.3"/><line x1="215.0" y1="476.3" x2="212.1" y2="497.3"/><line x1="216.6" y1="476.3" x2="213.3" y2="497.3"/><line x1="218.3" y1="476.3" x2="214.6" y2="497.3"/></g>
<ellipse cx="193.41" cy="472.398" rx="6.27" ry="6.018" fill="#fdf6b4"/><ellipse cx="215.19" cy="472.398" rx="6.27" ry="6.018" fill="#fdf6b4"/>
<ellipse cx="204.3" cy="470.628" rx="11.88" ry="7.788" fill="#fffbe8"/><ellipse cx="203.64" cy="461.07" rx="11.88" ry="9.204" fill="#fffbe8"/><ellipse cx="204.3" cy="450.096" rx="8.25" ry="8.496" fill="#fffbe8"/>
<rect x="205.7" y="460.9" width="0.9" height="0.9" fill="#6cc5ea"/><rect x="203.8" y="445.1" width="0.9" height="0.9" fill="#f6a54a"/><rect x="206.2" y="459.0" width="0.9" height="0.9" fill="#6cc5ea"/><rect x="204.6" y="469.8" width="0.9" height="0.9" fill="#f9c06a"/><rect x="210.0" y="455.0" width="0.9" height="0.9" fill="#8fd3ef"/><rect x="198.6" y="472.9" width="0.9" height="0.9" fill="#6cc5ea"/><rect x="213.2" y="473.0" width="0.9" height="0.9" fill="#f6a54a"/><rect x="195.8" y="452.8" width="0.9" height="0.9" fill="#6cc5ea"/><rect x="210.6" y="443.2" width="0.9" height="0.9" fill="#f9c06a"/><rect x="206.5" y="454.2" width="0.9" height="0.9" fill="#8fd3ef"/><rect x="190.9" y="470.7" width="0.9" height="0.9" fill="#6cc5ea"/><rect x="194.9" y="458.4" width="0.9" height="0.9" fill="#f6a54a"/><rect x="197.3" y="469.6" width="0.9" height="0.9" fill="#6cc5ea"/><rect x="203.2" y="475.0" width="0.9" height="0.9" fill="#f9c06a"/><rect x="212.1" y="461.3" width="0.9" height="0.9" fill="#8fd3ef"/><rect x="207.3" y="458.7" width="0.9" height="0.9" fill="#6cc5ea"/><rect x="207.8" y="459.3" width="0.9" height="0.9" fill="#f6a54a"/><rect x="199.3" y="460.7" width="0.9" height="0.9" fill="#6cc5ea"/><rect x="210.9" y="442.7" width="0.9" height="0.9" fill="#f9c06a"/><rect x="207.6" y="447.9" width="0.9" height="0.9" fill="#8fd3ef"/><rect x="197.6" y="465.5" width="0.9" height="0.9" fill="#6cc5ea"/><rect x="193.4" y="466.3" width="0.9" height="0.9" fill="#f6a54a"/><rect x="202.6" y="450.4" width="0.9" height="0.9" fill="#6cc5ea"/><rect x="202.5" y="447.7" width="0.9" height="0.9" fill="#f9c06a"/><rect x="209.1" y="444.0" width="0.9" height="0.9" fill="#8fd3ef"/><rect x="195.5" y="476.0" width="0.9" height="0.9" fill="#6cc5ea"/><rect x="203.9" y="445.6" width="0.9" height="0.9" fill="#f6a54a"/><rect x="202.9" y="443.3" width="0.9" height="0.9" fill="#6cc5ea"/><rect x="208.1" y="473.6" width="0.9" height="0.9" fill="#f9c06a"/><rect x="200.4" y="450.0" width="0.9" height="0.9" fill="#8fd3ef"/><rect x="199.5" y="473.1" width="0.9" height="0.9" fill="#6cc5ea"/><rect x="207.9" y="443.8" width="0.9" height="0.9" fill="#f6a54a"/><rect x="197.1" y="472.1" width="0.9" height="0.9" fill="#6cc5ea"/><rect x="191.7" y="472.6" width="0.9" height="0.9" fill="#f9c06a"/><rect x="198.9" y="449.4" width="0.9" height="0.9" fill="#8fd3ef"/><rect x="203.2" y="457.3" width="0.9" height="0.9" fill="#6cc5ea"/><rect x="210.6" y="469.6" width="0.9" height="0.9" fill="#f6a54a"/><rect x="208.3" y="471.6" width="0.9" height="0.9" fill="#6cc5ea"/><rect x="202.1" y="472.1" width="0.9" height="0.9" fill="#f9c06a"/><rect x="198.2" y="468.9" width="0.9" height="0.9" fill="#8fd3ef"/><rect x="208.5" y="443.6" width="0.9" height="0.9" fill="#6cc5ea"/><rect x="214.0" y="465.8" width="0.9" height="0.9" fill="#f6a54a"/><rect x="201.5" y="469.0" width="0.9" height="0.9" fill="#6cc5ea"/><rect x="206.5" y="447.5" width="0.9" height="0.9" fill="#f9c06a"/><rect x="218.3" y="472.6" width="0.9" height="0.9" fill="#8fd3ef"/><rect x="197.8" y="468.9" width="0.9" height="0.9" fill="#6cc5ea"/><rect x="201.4" y="450.2" width="0.9" height="0.9" fill="#f6a54a"/><rect x="193.5" y="466.1" width="0.9" height="0.9" fill="#6cc5ea"/><rect x="206.7" y="473.0" width="0.9" height="0.9" fill="#f9c06a"/><rect x="207.0" y="467.9" width="0.9" height="0.9" fill="#8fd3ef"/><rect x="203.2" y="463.6" width="0.9" height="0.9" fill="#6cc5ea"/><rect x="204.1" y="444.0" width="0.9" height="0.9" fill="#f6a54a"/><rect x="211.8" y="456.8" width="0.9" height="0.9" fill="#6cc5ea"/><rect x="194.9" y="469.9" width="0.9" height="0.9" fill="#f9c06a"/><rect x="209.0" y="445.7" width="0.9" height="0.9" fill="#8fd3ef"/><rect x="196.2" y="467.7" width="0.9" height="0.9" fill="#6cc5ea"/><rect x="212.1" y="451.3" width="0.9" height="0.9" fill="#f6a54a"/><rect x="216.4" y="469.4" width="0.9" height="0.9" fill="#6cc5ea"/><rect x="205.9" y="446.5" width="0.9" height="0.9" fill="#f9c06a"/><rect x="195.1" y="461.9" width="0.9" height="0.9" fill="#8fd3ef"/><rect x="218.0" y="474.7" width="0.9" height="0.9" fill="#6cc5ea"/><rect x="209.7" y="468.0" width="0.9" height="0.9" fill="#f6a54a"/><rect x="212.7" y="467.4" width="0.9" height="0.9" fill="#6cc5ea"/><rect x="200.1" y="456.1" width="0.9" height="0.9" fill="#f9c06a"/><rect x="210.3" y="470.1" width="0.9" height="0.9" fill="#8fd3ef"/><rect x="196.4" y="473.7" width="0.9" height="0.9" fill="#6cc5ea"/><rect x="211.6" y="457.3" width="0.9" height="0.9" fill="#f6a54a"/><rect x="199.9" y="455.5" width="0.9" height="0.9" fill="#6cc5ea"/><rect x="200.0" y="445.4" width="0.9" height="0.9" fill="#f9c06a"/><rect x="197.4" y="475.4" width="0.9" height="0.9" fill="#8fd3ef"/><rect x="194.3" y="461.1" width="0.9" height="0.9" fill="#6cc5ea"/><rect x="200.7" y="470.1" width="0.9" height="0.9" fill="#f6a54a"/><rect x="196.7" y="456.9" width="0.9" height="0.9" fill="#6cc5ea"/><rect x="213.7" y="463.9" width="0.9" height="0.9" fill="#f9c06a"/><rect x="206.4" y="443.3" width="0.9" height="0.9" fill="#8fd3ef"/><rect x="205.9" y="452.9" width="0.9" height="0.9" fill="#6cc5ea"/><rect x="191.3" y="471.3" width="0.9" height="0.9" fill="#f6a54a"/><rect x="216.6" y="475.4" width="0.9" height="0.9" fill="#6cc5ea"/><rect x="212.8" y="452.6" width="0.9" height="0.9" fill="#f9c06a"/><rect x="208.4" y="475.3" width="0.9" height="0.9" fill="#8fd3ef"/><rect x="209.4" y="459.9" width="0.9" height="0.9" fill="#6cc5ea"/><rect x="216.7" y="465.3" width="0.9" height="0.9" fill="#f6a54a"/><rect x="205.6" y="473.5" width="0.9" height="0.9" fill="#6cc5ea"/><rect x="211.4" y="451.4" width="0.9" height="0.9" fill="#f9c06a"/><rect x="207.9" y="451.4" width="0.9" height="0.9" fill="#8fd3ef"/><rect x="211.3" y="449.5" width="0.9" height="0.9" fill="#6cc5ea"/><rect x="208.8" y="464.2" width="0.9" height="0.9" fill="#f6a54a"/><rect x="209.8" y="445.9" width="0.9" height="0.9" fill="#6cc5ea"/><rect x="211.0" y="462.1" width="0.9" height="0.9" fill="#f9c06a"/><rect x="205.4" y="447.2" width="0.9" height="0.9" fill="#8fd3ef"/><rect x="202.0" y="455.1" width="0.9" height="0.9" fill="#6cc5ea"/><rect x="206.5" y="456.5" width="0.9" height="0.9" fill="#f6a54a"/><rect x="208.3" y="473.3" width="0.9" height="0.9" fill="#6cc5ea"/><rect x="209.4" y="442.8" width="0.9" height="0.9" fill="#f9c06a"/><rect x="202.3" y="451.7" width="0.9" height="0.9" fill="#8fd3ef"/><rect x="205.7" y="451.4" width="0.9" height="0.9" fill="#6cc5ea"/><rect x="212.0" y="461.3" width="0.9" height="0.9" fill="#f6a54a"/><rect x="211.5" y="473.2" width="0.9" height="0.9" fill="#6cc5ea"/><rect x="207.3" y="475.0" width="0.9" height="0.9" fill="#f9c06a"/><rect x="198.3" y="459.9" width="0.9" height="0.9" fill="#8fd3ef"/><rect x="204.2" y="452.7" width="0.9" height="0.9" fill="#6cc5ea"/><rect x="212.6" y="455.5" width="0.9" height="0.9" fill="#f6a54a"/><rect x="191.6" y="467.5" width="0.9" height="0.9" fill="#6cc5ea"/><rect x="208.8" y="465.9" width="0.9" height="0.9" fill="#f9c06a"/><rect x="195.4" y="469.2" width="0.9" height="0.9" fill="#8fd3ef"/>
<path d="M230.5,489.5 L262,489.5 L258.5,511.2 L234,511.2 Z" fill="#f07e26"/><g stroke="#e56f1c" stroke-width="0.5"><line x1="232.2" y1="489.5" x2="235.3" y2="511.2"/><line x1="233.8" y1="489.5" x2="236.6" y2="511.2"/><line x1="235.5" y1="489.5" x2="237.9" y2="511.2"/><line x1="237.1" y1="489.5" x2="239.2" y2="511.2"/><line x1="238.8" y1="489.5" x2="240.4" y2="511.2"/><line x1="240.4" y1="489.5" x2="241.7" y2="511.2"/><line x1="242.1" y1="489.5" x2="243.0" y2="511.2"/><line x1="243.8" y1="489.5" x2="244.3" y2="511.2"/><line x1="245.4" y1="489.5" x2="245.6" y2="511.2"/><line x1="247.1" y1="489.5" x2="246.9" y2="511.2"/><line x1="248.7" y1="489.5" x2="248.2" y2="511.2"/><line x1="250.4" y1="489.5" x2="249.5" y2="511.2"/><line x1="252.1" y1="489.5" x2="250.8" y2="511.2"/><line x1="253.7" y1="489.5" x2="252.1" y2="511.2"/><line x1="255.4" y1="489.5" x2="253.3" y2="511.2"/><line x1="257.0" y1="489.5" x2="254.6" y2="511.2"/><line x1="258.7" y1="489.5" x2="255.9" y2="511.2"/><line x1="260.3" y1="489.5" x2="257.2" y2="511.2"/></g>
<ellipse cx="237.09" cy="485.71" rx="5.13" ry="5.61" fill="#fdf6b4"/><ellipse cx="254.91" cy="485.71" rx="5.13" ry="5.61" fill="#fdf6b4"/>
<ellipse cx="246" cy="484.06" rx="9.72" ry="7.26" fill="#fffbe8"/><ellipse cx="245.46" cy="475.15" rx="9.72" ry="8.58" fill="#fffbe8"/><ellipse cx="246" cy="464.92" rx="6.75" ry="7.92" fill="#fffbe8"/>
<rect x="248.9" y="474.3" width="0.9" height="0.9" fill="#6cc5ea"/><rect x="240.5" y="468.3" width="0.9" height="0.9" fill="#f6a54a"/><rect x="242.9" y="488.7" width="0.9" height="0.9" fill="#6cc5ea"/><rect x="252.5" y="480.5" width="0.9" height="0.9" fill="#f9c06a"/><rect x="247.5" y="467.6" width="0.9" height="0.9" fill="#8fd3ef"/><rect x="248.7" y="471.7" width="0.9" height="0.9" fill="#6cc5ea"/><rect x="244.6" y="484.5" width="0.9" height="0.9" fill="#f6a54a"/><rect x="255.2" y="484.0" width="0.9" height="0.9" fill="#6cc5ea"/><rect x="253.7" y="487.2" width="0.9" height="0.9" fill="#f9c06a"/><rect x="250.4" y="486.7" width="0.9" height="0.9" fill="#8fd3ef"/><rect x="244.1" y="478.6" width="0.9" height="0.9" fill="#6cc5ea"/><rect x="239.7" y="462.9" width="0.9" height="0.9" fill="#f6a54a"/><rect x="256.0" y="487.1" width="0.9" height="0.9" fill="#6cc5ea"/><rect x="238.8" y="473.2" width="0.9" height="0.9" fill="#f9c06a"/><rect x="250.9" y="458.4" width="0.9" height="0.9" fill="#8fd3ef"/><rect x="244.2" y="485.5" width="0.9" height="0.9" fill="#6cc5ea"/><rect x="241.7" y="484.8" width="0.9" height="0.9" fill="#f6a54a"/><rect x="240.6" y="469.7" width="0.9" height="0.9" fill="#6cc5ea"/><rect x="239.2" y="467.4" width="0.9" height="0.9" fill="#f9c06a"/><rect x="253.1" y="483.7" width="0.9" height="0.9" fill="#8fd3ef"/><rect x="244.4" y="476.6" width="0.9" height="0.9" fill="#6cc5ea"/><rect x="245.6" y="470.5" width="0.9" height="0.9" fill="#f6a54a"/><rect x="236.9" y="477.1" width="0.9" height="0.9" fill="#6cc5ea"/><rect x="252.8" y="466.5" width="0.9" height="0.9" fill="#f9c06a"/><rect x="247.8" y="458.7" width="0.9" height="0.9" fill="#8fd3ef"/><rect x="243.3" y="478.0" width="0.9" height="0.9" fill="#6cc5ea"/><rect x="248.6" y="467.6" width="0.9" height="0.9" fill="#f6a54a"/><rect x="239.8" y="485.5" width="0.9" height="0.9" fill="#6cc5ea"/><rect x="246.2" y="477.7" width="0.9" height="0.9" fill="#f9c06a"/><rect x="246.0" y="463.9" width="0.9" height="0.9" fill="#8fd3ef"/><rect x="253.9" y="488.1" width="0.9" height="0.9" fill="#6cc5ea"/><rect x="246.4" y="475.7" width="0.9" height="0.9" fill="#f6a54a"/><rect x="244.4" y="482.1" width="0.9" height="0.9" fill="#6cc5ea"/><rect x="251.3" y="477.0" width="0.9" height="0.9" fill="#f9c06a"/><rect x="247.2" y="485.8" width="0.9" height="0.9" fill="#8fd3ef"/><rect x="250.4" y="483.5" width="0.9" height="0.9" fill="#6cc5ea"/><rect x="240.6" y="487.9" width="0.9" height="0.9" fill="#f6a54a"/><rect x="248.7" y="478.3" width="0.9" height="0.9" fill="#6cc5ea"/><rect x="245.0" y="487.4" width="0.9" height="0.9" fill="#f9c06a"/><rect x="241.2" y="482.5" width="0.9" height="0.9" fill="#8fd3ef"/><rect x="254.3" y="474.2" width="0.9" height="0.9" fill="#6cc5ea"/><rect x="254.2" y="474.1" width="0.9" height="0.9" fill="#f6a54a"/><rect x="255.5" y="483.8" width="0.9" height="0.9" fill="#6cc5ea"/><rect x="239.9" y="477.7" width="0.9" height="0.9" fill="#f9c06a"/><rect x="251.9" y="465.8" width="0.9" height="0.9" fill="#8fd3ef"/><rect x="240.3" y="488.8" width="0.9" height="0.9" fill="#6cc5ea"/><rect x="243.8" y="465.1" width="0.9" height="0.9" fill="#f6a54a"/><rect x="235.5" y="481.5" width="0.9" height="0.9" fill="#6cc5ea"/><rect x="248.9" y="487.8" width="0.9" height="0.9" fill="#f9c06a"/><rect x="251.5" y="458.5" width="0.9" height="0.9" fill="#8fd3ef"/><rect x="237.5" y="473.4" width="0.9" height="0.9" fill="#6cc5ea"/><rect x="251.8" y="479.0" width="0.9" height="0.9" fill="#f6a54a"/><rect x="247.8" y="463.2" width="0.9" height="0.9" fill="#6cc5ea"/><rect x="246.6" y="481.9" width="0.9" height="0.9" fill="#f9c06a"/><rect x="248.3" y="474.2" width="0.9" height="0.9" fill="#8fd3ef"/><rect x="255.4" y="480.9" width="0.9" height="0.9" fill="#6cc5ea"/><rect x="241.8" y="461.3" width="0.9" height="0.9" fill="#f6a54a"/><rect x="253.7" y="480.0" width="0.9" height="0.9" fill="#6cc5ea"/><rect x="255.3" y="480.4" width="0.9" height="0.9" fill="#f9c06a"/><rect x="249.5" y="473.0" width="0.9" height="0.9" fill="#8fd3ef"/><rect x="241.7" y="467.2" width="0.9" height="0.9" fill="#6cc5ea"/><rect x="240.9" y="480.2" width="0.9" height="0.9" fill="#f6a54a"/><rect x="249.0" y="467.8" width="0.9" height="0.9" fill="#6cc5ea"/><rect x="254.9" y="484.9" width="0.9" height="0.9" fill="#f9c06a"/><rect x="241.1" y="476.0" width="0.9" height="0.9" fill="#8fd3ef"/><rect x="255.0" y="475.5" width="0.9" height="0.9" fill="#6cc5ea"/><rect x="248.1" y="471.6" width="0.9" height="0.9" fill="#f6a54a"/><rect x="251.5" y="460.5" width="0.9" height="0.9" fill="#6cc5ea"/><rect x="244.8" y="465.4" width="0.9" height="0.9" fill="#f9c06a"/><rect x="252.6" y="470.8" width="0.9" height="0.9" fill="#8fd3ef"/><rect x="247.1" y="464.5" width="0.9" height="0.9" fill="#6cc5ea"/><rect x="243.4" y="478.2" width="0.9" height="0.9" fill="#f6a54a"/><rect x="246.9" y="466.2" width="0.9" height="0.9" fill="#6cc5ea"/><rect x="251.2" y="488.5" width="0.9" height="0.9" fill="#f9c06a"/><rect x="249.6" y="461.0" width="0.9" height="0.9" fill="#8fd3ef"/><rect x="251.0" y="461.2" width="0.9" height="0.9" fill="#6cc5ea"/><rect x="251.0" y="472.4" width="0.9" height="0.9" fill="#f6a54a"/><rect x="238.2" y="477.2" width="0.9" height="0.9" fill="#6cc5ea"/><rect x="242.3" y="478.1" width="0.9" height="0.9" fill="#f9c06a"/><rect x="248.2" y="460.0" width="0.9" height="0.9" fill="#8fd3ef"/>
<path d="M259.9,477.5 L295.8,477.5 L292,498 L263.7,498 Z" fill="#f07e26"/><g stroke="#e56f1c" stroke-width="0.5"><line x1="261.5" y1="477.5" x2="265.0" y2="498"/><line x1="263.2" y1="477.5" x2="266.3" y2="498"/><line x1="264.8" y1="477.5" x2="267.6" y2="498"/><line x1="266.4" y1="477.5" x2="268.8" y2="498"/><line x1="268.1" y1="477.5" x2="270.1" y2="498"/><line x1="269.7" y1="477.5" x2="271.4" y2="498"/><line x1="271.3" y1="477.5" x2="272.7" y2="498"/><line x1="273.0" y1="477.5" x2="274.0" y2="498"/><line x1="274.6" y1="477.5" x2="275.3" y2="498"/><line x1="276.2" y1="477.5" x2="276.6" y2="498"/><line x1="277.9" y1="477.5" x2="277.9" y2="498"/><line x1="279.5" y1="477.5" x2="279.1" y2="498"/><line x1="281.1" y1="477.5" x2="280.4" y2="498"/><line x1="282.7" y1="477.5" x2="281.7" y2="498"/><line x1="284.4" y1="477.5" x2="283.0" y2="498"/><line x1="286.0" y1="477.5" x2="284.3" y2="498"/><line x1="287.6" y1="477.5" x2="285.6" y2="498"/><line x1="289.3" y1="477.5" x2="286.9" y2="498"/><line x1="290.9" y1="477.5" x2="288.1" y2="498"/><line x1="292.5" y1="477.5" x2="289.4" y2="498"/><line x1="294.2" y1="477.5" x2="290.7" y2="498"/></g>
<ellipse cx="265.72" cy="473.554" rx="6.84" ry="5.814" fill="#fdf6b4"/><ellipse cx="289.48" cy="473.554" rx="6.84" ry="5.814" fill="#fdf6b4"/>
<ellipse cx="277.6" cy="471.844" rx="12.96" ry="7.524" fill="#fffbe8"/><ellipse cx="276.88" cy="462.61" rx="12.96" ry="8.892" fill="#fffbe8"/><ellipse cx="277.6" cy="452.008" rx="9" ry="8.208" fill="#fffbe8"/>
<rect x="282.8" y="468.7" width="0.9" height="0.9" fill="#6cc5ea"/><rect x="284.7" y="455.0" width="0.9" height="0.9" fill="#f6a54a"/><rect x="269.6" y="471.0" width="0.9" height="0.9" fill="#6cc5ea"/><rect x="269.3" y="472.3" width="0.9" height="0.9" fill="#f9c06a"/><rect x="270.4" y="453.4" width="0.9" height="0.9" fill="#8fd3ef"/><rect x="271.0" y="459.9" width="0.9" height="0.9" fill="#6cc5ea"/><rect x="275.7" y="467.5" width="0.9" height="0.9" fill="#f6a54a"/><rect x="279.5" y="450.0" width="0.9" height="0.9" fill="#6cc5ea"/><rect x="270.2" y="476.5" width="0.9" height="0.9" fill="#f9c06a"/><rect x="288.9" y="472.3" width="0.9" height="0.9" fill="#8fd3ef"/><rect x="283.1" y="450.9" width="0.9" height="0.9" fill="#6cc5ea"/><rect x="281.9" y="450.4" width="0.9" height="0.9" fill="#f6a54a"/><rect x="282.1" y="446.4" width="0.9" height="0.9" fill="#6cc5ea"/><rect x="287.5" y="468.7" width="0.9" height="0.9" fill="#f9c06a"/><rect x="283.7" y="461.3" width="0.9" height="0.9" fill="#8fd3ef"/><rect x="276.0" y="458.8" width="0.9" height="0.9" fill="#6cc5ea"/><rect x="275.8" y="465.3" width="0.9" height="0.9" fill="#f6a54a"/><rect x="267.2" y="466.9" width="0.9" height="0.9" fill="#6cc5ea"/><rect x="282.9" y="450.6" width="0.9" height="0.9" fill="#f9c06a"/><rect x="280.4" y="445.3" width="0.9" height="0.9" fill="#8fd3ef"/><rect x="283.3" y="459.2" width="0.9" height="0.9" fill="#6cc5ea"/><rect x="283.0" y="472.7" width="0.9" height="0.9" fill="#f6a54a"/><rect x="269.6" y="462.7" width="0.9" height="0.9" fill="#6cc5ea"/><rect x="278.3" y="470.5" width="0.9" height="0.9" fill="#f9c06a"/><rect x="276.4" y="468.8" width="0.9" height="0.9" fill="#8fd3ef"/><rect x="275.3" y="457.5" width="0.9" height="0.9" fill="#6cc5ea"/><rect x="277.3" y="472.8" width="0.9" height="0.9" fill="#f6a54a"/><rect x="270.0" y="469.4" width="0.9" height="0.9" fill="#6cc5ea"/><rect x="273.7" y="470.7" width="0.9" height="0.9" fill="#f9c06a"/><rect x="282.4" y="474.6" width="0.9" height="0.9" fill="#8fd3ef"/><rect x="275.9" y="446.3" width="0.9" height="0.9" fill="#6cc5ea"/><rect x="286.1" y="453.9" width="0.9" height="0.9" fill="#f6a54a"/><rect x="266.0" y="475.6" width="0.9" height="0.9" fill="#6cc5ea"/><rect x="283.7" y="451.0" width="0.9" height="0.9" fill="#f9c06a"/><rect x="270.4" y="456.4" width="0.9" height="0.9" fill="#8fd3ef"/><rect x="286.9" y="463.7" width="0.9" height="0.9" fill="#6cc5ea"/><rect x="282.6" y="448.5" width="0.9" height="0.9" fill="#f6a54a"/><rect x="288.0" y="470.5" width="0.9" height="0.9" fill="#6cc5ea"/><rect x="283.3" y="464.9" width="0.9" height="0.9" fill="#f9c06a"/><rect x="292.0" y="472.6" width="0.9" height="0.9" fill="#8fd3ef"/><rect x="282.5" y="457.6" width="0.9" height="0.9" fill="#6cc5ea"/><rect x="281.0" y="470.2" width="0.9" height="0.9" fill="#f6a54a"/><rect x="279.6" y="458.3" width="0.9" height="0.9" fill="#6cc5ea"/><rect x="283.6" y="465.4" width="0.9" height="0.9" fill="#f9c06a"/><rect x="272.1" y="466.0" width="0.9" height="0.9" fill="#8fd3ef"/><rect x="283.1" y="471.7" width="0.9" height="0.9" fill="#6cc5ea"/><rect x="269.1" y="473.4" width="0.9" height="0.9" fill="#f6a54a"/><rect x="282.2" y="474.8" width="0.9" height="0.9" fill="#6cc5ea"/><rect x="278.6" y="459.1" width="0.9" height="0.9" fill="#f9c06a"/><rect x="275.6" y="475.7" width="0.9" height="0.9" fill="#8fd3ef"/><rect x="266.7" y="466.0" width="0.9" height="0.9" fill="#6cc5ea"/><rect x="294.1" y="476.9" width="0.9" height="0.9" fill="#f6a54a"/><rect x="271.5" y="473.1" width="0.9" height="0.9" fill="#6cc5ea"/><rect x="280.3" y="468.3" width="0.9" height="0.9" fill="#f9c06a"/><rect x="276.6" y="474.5" width="0.9" height="0.9" fill="#8fd3ef"/><rect x="286.4" y="465.2" width="0.9" height="0.9" fill="#6cc5ea"/><rect x="272.1" y="476.8" width="0.9" height="0.9" fill="#f6a54a"/><rect x="288.8" y="461.0" width="0.9" height="0.9" fill="#6cc5ea"/><rect x="277.0" y="460.4" width="0.9" height="0.9" fill="#f9c06a"/><rect x="273.4" y="455.4" width="0.9" height="0.9" fill="#8fd3ef"/><rect x="277.6" y="476.0" width="0.9" height="0.9" fill="#6cc5ea"/><rect x="281.4" y="447.7" width="0.9" height="0.9" fill="#f6a54a"/><rect x="282.8" y="468.7" width="0.9" height="0.9" fill="#6cc5ea"/><rect x="273.4" y="449.7" width="0.9" height="0.9" fill="#f9c06a"/><rect x="274.4" y="458.1" width="0.9" height="0.9" fill="#8fd3ef"/><rect x="271.5" y="469.1" width="0.9" height="0.9" fill="#6cc5ea"/><rect x="273.2" y="470.4" width="0.9" height="0.9" fill="#f6a54a"/><rect x="274.3" y="475.8" width="0.9" height="0.9" fill="#6cc5ea"/><rect x="285.7" y="474.2" width="0.9" height="0.9" fill="#f9c06a"/><rect x="266.7" y="457.7" width="0.9" height="0.9" fill="#8fd3ef"/><rect x="271.8" y="452.1" width="0.9" height="0.9" fill="#6cc5ea"/><rect x="278.9" y="461.5" width="0.9" height="0.9" fill="#f6a54a"/><rect x="271.9" y="466.3" width="0.9" height="0.9" fill="#6cc5ea"/><rect x="268.5" y="463.0" width="0.9" height="0.9" fill="#f9c06a"/><rect x="271.0" y="449.2" width="0.9" height="0.9" fill="#8fd3ef"/><rect x="272.6" y="450.5" width="0.9" height="0.9" fill="#6cc5ea"/><rect x="274.5" y="467.2" width="0.9" height="0.9" fill="#f6a54a"/><rect x="265.5" y="475.9" width="0.9" height="0.9" fill="#6cc5ea"/><rect x="276.1" y="465.4" width="0.9" height="0.9" fill="#f9c06a"/><rect x="285.8" y="448.8" width="0.9" height="0.9" fill="#8fd3ef"/><rect x="278.7" y="475.6" width="0.9" height="0.9" fill="#6cc5ea"/><rect x="286.9" y="472.8" width="0.9" height="0.9" fill="#f6a54a"/><rect x="288.2" y="466.6" width="0.9" height="0.9" fill="#6cc5ea"/><rect x="269.0" y="459.4" width="0.9" height="0.9" fill="#f9c06a"/><rect x="269.3" y="476.8" width="0.9" height="0.9" fill="#8fd3ef"/><rect x="271.7" y="449.0" width="0.9" height="0.9" fill="#6cc5ea"/><rect x="274.5" y="461.6" width="0.9" height="0.9" fill="#f6a54a"/><rect x="285.6" y="465.9" width="0.9" height="0.9" fill="#6cc5ea"/><rect x="284.0" y="470.1" width="0.9" height="0.9" fill="#f9c06a"/><rect x="286.6" y="455.5" width="0.9" height="0.9" fill="#8fd3ef"/><rect x="287.4" y="460.3" width="0.9" height="0.9" fill="#6cc5ea"/><rect x="279.4" y="462.8" width="0.9" height="0.9" fill="#f6a54a"/><rect x="284.9" y="457.0" width="0.9" height="0.9" fill="#6cc5ea"/><rect x="271.3" y="448.1" width="0.9" height="0.9" fill="#f9c06a"/><rect x="278.6" y="472.6" width="0.9" height="0.9" fill="#8fd3ef"/><rect x="278.2" y="450.8" width="0.9" height="0.9" fill="#6cc5ea"/><rect x="290.3" y="467.4" width="0.9" height="0.9" fill="#f6a54a"/><rect x="266.2" y="467.4" width="0.9" height="0.9" fill="#6cc5ea"/><rect x="262.5" y="475.3" width="0.9" height="0.9" fill="#f9c06a"/><rect x="269.9" y="453.6" width="0.9" height="0.9" fill="#8fd3ef"/><rect x="284.8" y="453.9" width="0.9" height="0.9" fill="#6cc5ea"/><rect x="282.1" y="444.8" width="0.9" height="0.9" fill="#f6a54a"/><rect x="280.7" y="463.3" width="0.9" height="0.9" fill="#6cc5ea"/><rect x="281.4" y="450.2" width="0.9" height="0.9" fill="#f9c06a"/><rect x="284.9" y="467.6" width="0.9" height="0.9" fill="#8fd3ef"/><rect x="271.6" y="473.5" width="0.9" height="0.9" fill="#6cc5ea"/><rect x="277.2" y="444.9" width="0.9" height="0.9" fill="#f6a54a"/><rect x="285.6" y="468.4" width="0.9" height="0.9" fill="#6cc5ea"/><rect x="265.3" y="462.5" width="0.9" height="0.9" fill="#f9c06a"/><rect x="269.8" y="476.1" width="0.9" height="0.9" fill="#8fd3ef"/>
<g transform="rotate(8 328.5 496)"><ellipse cx="328.5" cy="496" rx="37" ry="17.2" fill="#f4a93a"/><g fill="#fce98f"><circle cx="339.0" cy="504.2" r="0.7"/><circle cx="319.5" cy="496.6" r="0.7"/><circle cx="334.4" cy="488.8" r="0.6"/><circle cx="328.5" cy="496.2" r="0.6"/><circle cx="325.0" cy="495.0" r="0.7"/><circle cx="329.6" cy="500.4" r="0.5"/><circle cx="350.0" cy="495.8" r="0.8"/><circle cx="326.6" cy="495.2" r="0.6"/><circle cx="322.6" cy="496.0" r="0.8"/><circle cx="323.6" cy="498.5" r="0.7"/><circle cx="346.4" cy="504.3" r="0.6"/><circle cx="316.6" cy="494.1" r="0.6"/><circle cx="329.5" cy="497.1" r="0.8"/><circle cx="330.6" cy="506.4" r="0.5"/><circle cx="352.7" cy="493.8" r="0.7"/><circle cx="330.0" cy="487.6" r="0.7"/><circle cx="339.9" cy="501.1" r="0.7"/><circle cx="336.1" cy="507.2" r="0.8"/><circle cx="317.4" cy="499.3" r="0.6"/><circle cx="308.5" cy="504.1" r="0.6"/><circle cx="333.5" cy="496.4" r="0.7"/><circle cx="344.8" cy="495.7" r="0.6"/><circle cx="307.8" cy="492.9" r="0.5"/><circle cx="314.8" cy="490.8" r="0.7"/><circle cx="331.8" cy="499.2" r="0.6"/><circle cx="339.9" cy="493.4" r="0.7"/><circle cx="326.6" cy="498.4" r="0.5"/><circle cx="337.2" cy="486.4" r="0.6"/><circle cx="320.3" cy="487.4" r="0.8"/><circle cx="342.2" cy="494.3" r="0.8"/><circle cx="346.4" cy="493.9" r="0.8"/><circle cx="315.1" cy="496.4" r="0.5"/><circle cx="333.8" cy="493.6" r="0.5"/><circle cx="336.1" cy="486.3" r="0.6"/><circle cx="330.3" cy="494.7" r="0.5"/><circle cx="324.9" cy="502.5" r="0.5"/><circle cx="339.8" cy="498.4" r="0.8"/><circle cx="350.1" cy="495.0" r="0.6"/><circle cx="328.1" cy="508.0" r="0.6"/><circle cx="328.2" cy="495.0" r="0.5"/><circle cx="340.4" cy="487.0" r="0.8"/><circle cx="316.7" cy="491.9" r="0.7"/><circle cx="335.3" cy="491.6" r="0.6"/><circle cx="324.9" cy="506.2" r="0.5"/><circle cx="318.3" cy="485.0" r="0.5"/><circle cx="312.2" cy="490.9" r="0.7"/><circle cx="319.6" cy="493.6" r="0.6"/><circle cx="352.5" cy="493.0" r="0.5"/><circle cx="332.7" cy="497.3" r="0.5"/><circle cx="322.1" cy="497.0" r="0.8"/><circle cx="325.0" cy="493.6" r="0.6"/><circle cx="321.2" cy="502.7" r="0.5"/><circle cx="332.6" cy="499.3" r="0.6"/><circle cx="324.1" cy="488.1" r="0.5"/><circle cx="322.6" cy="485.1" r="0.7"/><circle cx="328.7" cy="495.6" r="0.6"/><circle cx="348.8" cy="500.0" r="0.5"/><circle cx="326.1" cy="491.4" r="0.7"/><circle cx="327.4" cy="497.2" r="0.6"/><circle cx="319.5" cy="506.7" r="0.6"/><circle cx="311.0" cy="495.8" r="0.8"/><circle cx="343.7" cy="501.0" r="0.6"/><circle cx="326.0" cy="484.0" r="0.6"/><circle cx="323.2" cy="488.5" r="0.6"/><circle cx="349.8" cy="500.2" r="0.8"/><circle cx="321.2" cy="500.4" r="0.8"/><circle cx="331.9" cy="497.3" r="0.5"/><circle cx="337.1" cy="486.6" r="0.6"/><circle cx="327.3" cy="495.5" r="0.7"/><circle cx="312.8" cy="498.8" r="0.6"/><circle cx="320.9" cy="498.5" r="0.5"/><circle cx="319.3" cy="497.9" r="0.7"/><circle cx="337.2" cy="487.0" r="0.6"/><circle cx="329.7" cy="502.3" r="0.6"/><circle cx="311.0" cy="487.1" r="0.5"/><circle cx="312.4" cy="497.0" r="0.7"/><circle cx="345.8" cy="489.4" r="0.7"/><circle cx="329.6" cy="486.7" r="0.8"/><circle cx="322.1" cy="487.0" r="0.5"/><circle cx="340.3" cy="492.8" r="0.7"/><circle cx="340.3" cy="485.2" r="0.8"/><circle cx="340.3" cy="496.2" r="0.6"/><circle cx="323.1" cy="498.0" r="0.6"/><circle cx="338.6" cy="498.6" r="0.8"/><circle cx="327.8" cy="488.8" r="0.5"/><circle cx="348.5" cy="493.4" r="0.5"/><circle cx="318.5" cy="503.8" r="0.7"/><circle cx="326.7" cy="507.9" r="0.6"/><circle cx="327.9" cy="507.0" r="0.5"/><circle cx="324.9" cy="492.4" r="0.7"/><circle cx="326.2" cy="502.2" r="0.8"/><circle cx="313.9" cy="497.4" r="0.7"/><circle cx="327.0" cy="499.6" r="0.6"/><circle cx="327.3" cy="499.8" r="0.8"/><circle cx="351.0" cy="498.3" r="0.8"/><circle cx="328.0" cy="495.3" r="0.6"/><circle cx="346.7" cy="498.1" r="0.7"/><circle cx="328.6" cy="496.4" r="0.6"/><circle cx="338.2" cy="499.0" r="0.6"/><circle cx="339.0" cy="492.2" r="0.5"/><circle cx="334.5" cy="485.6" r="0.6"/><circle cx="336.4" cy="497.2" r="0.6"/><circle cx="319.6" cy="494.6" r="0.7"/><circle cx="342.5" cy="486.2" r="0.8"/><circle cx="346.6" cy="496.9" r="0.5"/><circle cx="346.0" cy="490.0" r="0.7"/><circle cx="329.9" cy="497.6" r="0.7"/><circle cx="313.5" cy="490.5" r="0.6"/><circle cx="332.4" cy="490.5" r="0.5"/><circle cx="321.6" cy="500.2" r="0.7"/><circle cx="331.7" cy="494.8" r="0.5"/><circle cx="308.3" cy="495.3" r="0.5"/><circle cx="328.0" cy="497.7" r="0.5"/><circle cx="308.2" cy="496.3" r="0.7"/><circle cx="331.5" cy="498.1" r="0.8"/><circle cx="314.7" cy="494.4" r="0.7"/><circle cx="326.1" cy="488.2" r="0.5"/><circle cx="332.7" cy="492.3" r="0.5"/><circle cx="318.2" cy="502.4" r="0.7"/><circle cx="338.1" cy="504.7" r="0.6"/><circle cx="341.0" cy="505.4" r="0.7"/><circle cx="345.4" cy="490.8" r="0.5"/><circle cx="332.8" cy="484.6" r="0.6"/><circle cx="350.4" cy="489.4" r="0.6"/><circle cx="352.3" cy="491.8" r="0.7"/><circle cx="341.3" cy="496.4" r="0.7"/><circle cx="311.4" cy="489.7" r="0.7"/><circle cx="341.9" cy="506.0" r="0.6"/><circle cx="335.0" cy="493.2" r="0.8"/><circle cx="307.5" cy="492.5" r="0.7"/><circle cx="338.2" cy="491.9" r="0.5"/><circle cx="321.9" cy="498.1" r="0.6"/><circle cx="333.7" cy="490.4" r="0.5"/><circle cx="342.9" cy="497.1" r="0.7"/><circle cx="348.3" cy="497.5" r="0.5"/><circle cx="348.3" cy="503.3" r="0.6"/><circle cx="341.7" cy="491.2" r="0.5"/><circle cx="329.4" cy="502.8" r="0.7"/><circle cx="331.4" cy="485.9" r="0.7"/><circle cx="328.2" cy="502.9" r="0.6"/><circle cx="318.0" cy="496.3" r="0.6"/><circle cx="326.0" cy="496.3" r="0.7"/><circle cx="308.9" cy="490.5" r="0.7"/><circle cx="325.3" cy="483.8" r="0.6"/><circle cx="328.1" cy="496.2" r="0.7"/><circle cx="312.7" cy="491.9" r="0.8"/><circle cx="331.6" cy="500.1" r="0.7"/><circle cx="334.6" cy="489.1" r="0.5"/><circle cx="312.5" cy="503.9" r="0.6"/><circle cx="315.1" cy="497.5" r="0.7"/><circle cx="311.7" cy="490.4" r="0.8"/><circle cx="328.6" cy="489.8" r="0.5"/><circle cx="333.0" cy="485.7" r="0.8"/><circle cx="336.0" cy="506.5" r="0.8"/><circle cx="338.8" cy="498.5" r="0.7"/><circle cx="342.7" cy="504.6" r="0.5"/><circle cx="323.8" cy="491.2" r="0.5"/><circle cx="332.9" cy="503.3" r="0.7"/><circle cx="332.6" cy="505.3" r="0.6"/><circle cx="320.7" cy="491.0" r="0.5"/><circle cx="330.8" cy="497.3" r="0.7"/><circle cx="323.2" cy="497.5" r="0.8"/><circle cx="327.5" cy="495.3" r="0.7"/><circle cx="316.0" cy="492.1" r="0.6"/><circle cx="341.5" cy="494.5" r="0.7"/><circle cx="319.8" cy="491.4" r="0.6"/><circle cx="329.1" cy="487.0" r="0.6"/><circle cx="319.2" cy="495.6" r="0.7"/><circle cx="347.9" cy="497.1" r="0.6"/><circle cx="331.8" cy="504.4" r="0.7"/><circle cx="342.3" cy="499.9" r="0.5"/><circle cx="332.2" cy="490.6" r="0.6"/><circle cx="329.2" cy="497.4" r="0.5"/><circle cx="339.6" cy="503.3" r="0.7"/><circle cx="329.5" cy="498.6" r="0.6"/><circle cx="339.1" cy="500.4" r="0.7"/><circle cx="334.5" cy="505.2" r="0.6"/><circle cx="337.0" cy="498.3" r="0.7"/><circle cx="335.7" cy="498.3" r="0.7"/><circle cx="335.5" cy="488.9" r="0.7"/><circle cx="340.0" cy="496.3" r="0.6"/><circle cx="339.6" cy="492.9" r="0.7"/><circle cx="344.5" cy="497.6" r="0.8"/><circle cx="330.9" cy="487.6" r="0.5"/><circle cx="332.6" cy="495.1" r="0.8"/><circle cx="332.0" cy="486.3" r="0.6"/><circle cx="335.0" cy="501.0" r="0.7"/><circle cx="320.8" cy="490.7" r="0.7"/><circle cx="339.0" cy="497.7" r="0.5"/><circle cx="318.2" cy="505.4" r="0.7"/><circle cx="335.4" cy="500.4" r="0.5"/><circle cx="320.6" cy="490.0" r="0.5"/><circle cx="311.6" cy="504.0" r="0.6"/><circle cx="321.5" cy="487.7" r="0.6"/><circle cx="316.2" cy="493.9" r="0.5"/><circle cx="316.9" cy="496.2" r="0.6"/><circle cx="338.2" cy="506.7" r="0.6"/><circle cx="329.2" cy="497.1" r="0.5"/><circle cx="336.9" cy="491.7" r="0.7"/><circle cx="330.9" cy="505.1" r="0.6"/><circle cx="327.0" cy="488.1" r="0.6"/><circle cx="325.0" cy="504.4" r="0.7"/><circle cx="322.8" cy="489.1" r="0.6"/><circle cx="346.9" cy="489.1" r="0.5"/><circle cx="318.9" cy="486.7" r="0.7"/><circle cx="352.2" cy="493.5" r="0.5"/><circle cx="340.7" cy="495.9" r="0.6"/><circle cx="336.0" cy="495.5" r="0.6"/><circle cx="321.0" cy="492.5" r="0.5"/><circle cx="333.7" cy="487.5" r="0.7"/><circle cx="334.5" cy="485.1" r="0.8"/><circle cx="340.2" cy="485.1" r="0.6"/><circle cx="323.5" cy="488.6" r="0.8"/><circle cx="320.2" cy="490.3" r="0.7"/><circle cx="326.7" cy="498.8" r="0.6"/><circle cx="328.9" cy="496.2" r="0.5"/></g></g>
<g transform="rotate(-37 316.8 455)"><ellipse cx="316.8" cy="455" rx="28" ry="16" fill="#cb9a3e"/><g fill="#fce98f"><circle cx="321.7" cy="454.2" r="0.5"/><circle cx="323.0" cy="455.0" r="0.5"/><circle cx="311.2" cy="450.5" r="0.8"/><circle cx="319.0" cy="466.1" r="0.6"/><circle cx="301.4" cy="448.5" r="0.7"/><circle cx="330.9" cy="450.8" r="0.5"/><circle cx="327.0" cy="449.6" r="0.6"/><circle cx="323.4" cy="464.6" r="0.7"/><circle cx="332.4" cy="451.3" r="0.8"/><circle cx="302.5" cy="451.4" r="0.7"/><circle cx="315.8" cy="466.2" r="0.6"/><circle cx="320.6" cy="444.1" r="0.7"/><circle cx="327.8" cy="462.8" r="0.7"/><circle cx="317.8" cy="456.3" r="0.6"/><circle cx="335.5" cy="457.2" r="0.6"/><circle cx="306.1" cy="454.3" r="0.7"/><circle cx="324.4" cy="452.5" r="0.6"/><circle cx="309.3" cy="452.6" r="0.7"/><circle cx="306.0" cy="453.3" r="0.7"/><circle cx="313.2" cy="454.6" r="0.8"/><circle cx="309.9" cy="460.0" r="0.6"/><circle cx="334.4" cy="450.2" r="0.6"/><circle cx="313.6" cy="456.3" r="0.8"/><circle cx="323.1" cy="461.6" r="0.6"/><circle cx="312.2" cy="459.9" r="0.5"/><circle cx="329.5" cy="456.7" r="0.7"/><circle cx="312.8" cy="452.0" r="0.7"/><circle cx="327.0" cy="457.0" r="0.7"/><circle cx="327.1" cy="451.8" r="0.7"/><circle cx="304.0" cy="455.1" r="0.7"/><circle cx="333.2" cy="454.5" r="0.6"/><circle cx="314.7" cy="446.6" r="0.6"/><circle cx="320.5" cy="445.2" r="0.7"/><circle cx="317.9" cy="454.8" r="0.6"/><circle cx="310.5" cy="450.9" r="0.5"/><circle cx="312.8" cy="449.0" r="0.5"/><circle cx="335.8" cy="457.9" r="0.6"/><circle cx="321.9" cy="457.7" r="0.5"/><circle cx="320.9" cy="452.4" r="0.5"/><circle cx="326.5" cy="458.9" r="0.5"/><circle cx="307.7" cy="462.7" r="0.8"/><circle cx="317.8" cy="454.0" r="0.6"/><circle cx="317.9" cy="454.1" r="0.5"/><circle cx="306.5" cy="455.4" r="0.7"/><circle cx="314.5" cy="448.4" r="0.5"/><circle cx="317.8" cy="459.5" r="0.5"/><circle cx="314.0" cy="452.3" r="0.8"/><circle cx="315.2" cy="453.8" r="0.6"/><circle cx="315.0" cy="454.2" r="0.6"/><circle cx="333.2" cy="456.8" r="0.5"/><circle cx="303.3" cy="446.6" r="0.7"/><circle cx="318.2" cy="462.4" r="0.5"/><circle cx="306.8" cy="463.7" r="0.7"/><circle cx="327.0" cy="455.3" r="0.7"/><circle cx="324.6" cy="463.8" r="0.8"/><circle cx="307.4" cy="453.2" r="0.7"/><circle cx="310.6" cy="454.7" r="0.5"/><circle cx="326.4" cy="463.6" r="0.6"/><circle cx="311.0" cy="445.6" r="0.8"/><circle cx="320.7" cy="460.7" r="0.8"/><circle cx="317.6" cy="449.1" r="0.7"/><circle cx="318.7" cy="458.0" r="0.5"/><circle cx="311.5" cy="457.9" r="0.6"/><circle cx="322.1" cy="454.4" r="0.6"/><circle cx="326.1" cy="449.0" r="0.6"/><circle cx="317.0" cy="454.2" r="0.8"/><circle cx="310.1" cy="445.9" r="0.7"/><circle cx="319.3" cy="456.0" r="0.5"/><circle cx="297.5" cy="454.7" r="0.8"/><circle cx="304.5" cy="459.3" r="0.7"/><circle cx="307.0" cy="464.8" r="0.8"/><circle cx="314.1" cy="444.4" r="0.7"/><circle cx="311.6" cy="450.7" r="0.5"/><circle cx="317.0" cy="456.6" r="0.8"/><circle cx="316.4" cy="455.8" r="0.6"/><circle cx="325.9" cy="458.9" r="0.6"/><circle cx="322.2" cy="461.1" r="0.6"/><circle cx="306.2" cy="462.9" r="0.6"/><circle cx="299.0" cy="452.3" r="0.8"/><circle cx="315.3" cy="455.9" r="0.8"/><circle cx="309.9" cy="454.6" r="0.5"/><circle cx="317.4" cy="460.1" r="0.5"/><circle cx="335.9" cy="458.5" r="0.7"/><circle cx="325.9" cy="459.5" r="0.7"/><circle cx="313.7" cy="454.9" r="0.6"/><circle cx="302.9" cy="462.4" r="0.7"/><circle cx="302.7" cy="457.1" r="0.5"/><circle cx="310.0" cy="445.9" r="0.7"/><circle cx="311.4" cy="458.7" r="0.5"/><circle cx="321.5" cy="456.5" r="0.6"/><circle cx="318.0" cy="451.1" r="0.6"/><circle cx="307.2" cy="448.7" r="0.5"/><circle cx="329.0" cy="451.2" r="0.6"/><circle cx="317.8" cy="463.9" r="0.8"/><circle cx="311.3" cy="460.2" r="0.6"/><circle cx="321.7" cy="460.5" r="0.8"/><circle cx="300.3" cy="451.5" r="0.5"/><circle cx="328.3" cy="447.9" r="0.5"/><circle cx="301.7" cy="453.3" r="0.7"/><circle cx="310.8" cy="452.5" r="0.6"/><circle cx="306.3" cy="462.8" r="0.6"/><circle cx="330.5" cy="454.0" r="0.5"/><circle cx="312.7" cy="456.4" r="0.7"/><circle cx="330.4" cy="457.3" r="0.6"/><circle cx="317.6" cy="452.3" r="0.7"/><circle cx="315.2" cy="450.9" r="0.5"/><circle cx="306.4" cy="461.1" r="0.5"/><circle cx="328.2" cy="455.4" r="0.7"/><circle cx="327.4" cy="464.2" r="0.6"/><circle cx="318.9" cy="456.9" r="0.6"/><circle cx="310.9" cy="455.5" r="0.5"/><circle cx="309.1" cy="455.0" r="0.6"/><circle cx="301.9" cy="457.7" r="0.7"/><circle cx="317.6" cy="458.4" r="0.8"/><circle cx="321.2" cy="455.8" r="0.5"/><circle cx="322.8" cy="448.4" r="0.8"/><circle cx="310.2" cy="451.2" r="0.6"/><circle cx="316.0" cy="450.9" r="0.7"/><circle cx="315.0" cy="455.7" r="0.6"/><circle cx="311.9" cy="453.9" r="0.8"/><circle cx="328.1" cy="451.8" r="0.8"/><circle cx="312.0" cy="448.1" r="0.5"/><circle cx="335.0" cy="451.8" r="0.6"/><circle cx="314.4" cy="456.2" r="0.7"/><circle cx="323.2" cy="450.3" r="0.6"/><circle cx="303.8" cy="448.6" r="0.5"/><circle cx="313.8" cy="463.3" r="0.5"/><circle cx="320.5" cy="450.3" r="0.7"/><circle cx="311.3" cy="455.9" r="0.5"/><circle cx="322.8" cy="457.9" r="0.7"/><circle cx="320.8" cy="447.0" r="0.6"/><circle cx="308.5" cy="447.1" r="0.6"/><circle cx="327.1" cy="458.3" r="0.5"/><circle cx="320.7" cy="460.5" r="0.5"/><circle cx="323.4" cy="452.2" r="0.8"/><circle cx="316.7" cy="454.5" r="0.8"/><circle cx="321.5" cy="448.2" r="0.8"/><circle cx="315.3" cy="455.1" r="0.5"/><circle cx="310.1" cy="464.6" r="0.7"/><circle cx="323.9" cy="458.7" r="0.5"/><circle cx="318.1" cy="460.5" r="0.6"/><circle cx="325.6" cy="461.9" r="0.5"/><circle cx="326.1" cy="450.6" r="0.6"/><circle cx="317.7" cy="449.6" r="0.5"/><circle cx="323.0" cy="458.4" r="0.5"/><circle cx="315.9" cy="449.4" r="0.7"/><circle cx="316.3" cy="456.8" r="0.6"/><circle cx="302.1" cy="461.7" r="0.5"/><circle cx="318.1" cy="458.0" r="0.5"/><circle cx="335.4" cy="452.3" r="0.5"/><circle cx="328.4" cy="457.1" r="0.7"/><circle cx="325.2" cy="459.0" r="0.7"/></g></g>
<g transform="rotate(20 332 458.8)"><ellipse cx="332" cy="458.8" rx="17.8" ry="16.8" fill="#f4a93a"/><g fill="#fce98f"><circle cx="343.0" cy="453.5" r="0.8"/><circle cx="339.7" cy="463.0" r="0.6"/><circle cx="329.0" cy="458.3" r="0.5"/><circle cx="327.8" cy="460.2" r="0.6"/><circle cx="334.3" cy="459.1" r="0.7"/><circle cx="324.9" cy="462.4" r="0.7"/><circle cx="330.9" cy="460.1" r="0.7"/><circle cx="323.9" cy="454.0" r="0.7"/><circle cx="338.2" cy="457.7" r="0.7"/><circle cx="326.1" cy="464.8" r="0.7"/><circle cx="331.1" cy="460.8" r="0.6"/><circle cx="330.2" cy="450.6" r="0.6"/><circle cx="329.6" cy="455.9" r="0.5"/><circle cx="327.1" cy="468.2" r="0.5"/><circle cx="333.9" cy="460.4" r="0.5"/><circle cx="330.6" cy="466.9" r="0.7"/><circle cx="328.9" cy="464.1" r="0.6"/><circle cx="328.4" cy="468.3" r="0.6"/><circle cx="331.9" cy="461.3" r="0.7"/><circle cx="329.0" cy="448.6" r="0.5"/><circle cx="320.4" cy="455.6" r="0.7"/><circle cx="335.5" cy="457.6" r="0.8"/><circle cx="338.5" cy="461.1" r="0.5"/><circle cx="335.6" cy="450.1" r="0.8"/><circle cx="336.2" cy="447.8" r="0.6"/><circle cx="342.4" cy="458.1" r="0.6"/><circle cx="338.4" cy="457.8" r="0.5"/><circle cx="338.7" cy="462.1" r="0.5"/><circle cx="343.3" cy="454.1" r="0.5"/><circle cx="338.5" cy="463.5" r="0.5"/><circle cx="321.3" cy="456.0" r="0.5"/><circle cx="321.5" cy="464.1" r="0.6"/><circle cx="325.5" cy="468.1" r="0.7"/><circle cx="339.8" cy="453.1" r="0.6"/><circle cx="328.1" cy="448.9" r="0.7"/><circle cx="332.4" cy="463.9" r="0.6"/><circle cx="333.2" cy="450.8" r="0.6"/><circle cx="333.3" cy="456.5" r="0.7"/><circle cx="327.8" cy="465.8" r="0.7"/><circle cx="332.1" cy="470.5" r="0.5"/><circle cx="324.3" cy="455.8" r="0.5"/><circle cx="325.0" cy="456.1" r="0.6"/><circle cx="331.9" cy="458.6" r="0.6"/><circle cx="332.7" cy="455.8" r="0.8"/><circle cx="334.8" cy="467.7" r="0.5"/><circle cx="325.3" cy="460.9" r="0.5"/><circle cx="329.6" cy="451.9" r="0.7"/><circle cx="323.8" cy="456.8" r="0.6"/><circle cx="328.5" cy="469.5" r="0.5"/><circle cx="340.3" cy="451.2" r="0.6"/><circle cx="333.6" cy="449.8" r="0.7"/><circle cx="330.5" cy="464.1" r="0.6"/><circle cx="328.0" cy="469.9" r="0.6"/><circle cx="326.7" cy="463.1" r="0.7"/><circle cx="323.6" cy="459.9" r="0.5"/><circle cx="331.6" cy="461.0" r="0.5"/><circle cx="331.0" cy="469.6" r="0.6"/><circle cx="337.7" cy="463.3" r="0.5"/><circle cx="325.4" cy="456.0" r="0.8"/><circle cx="331.3" cy="469.6" r="0.5"/><circle cx="341.3" cy="457.8" r="0.5"/><circle cx="333.8" cy="454.2" r="0.6"/><circle cx="338.8" cy="467.3" r="0.5"/><circle cx="331.5" cy="452.5" r="0.7"/><circle cx="331.4" cy="460.8" r="0.8"/><circle cx="329.9" cy="455.9" r="0.8"/><circle cx="335.3" cy="456.9" r="0.5"/><circle cx="329.5" cy="456.8" r="0.7"/><circle cx="322.1" cy="460.6" r="0.6"/><circle cx="333.4" cy="448.3" r="0.7"/><circle cx="327.1" cy="455.8" r="0.5"/><circle cx="341.6" cy="464.8" r="0.5"/><circle cx="326.9" cy="461.2" r="0.7"/><circle cx="320.7" cy="456.5" r="0.6"/><circle cx="325.9" cy="465.6" r="0.7"/><circle cx="337.1" cy="456.4" r="0.8"/><circle cx="344.6" cy="457.4" r="0.5"/><circle cx="324.2" cy="465.7" r="0.7"/><circle cx="338.5" cy="460.4" r="0.7"/><circle cx="332.4" cy="451.0" r="0.5"/><circle cx="330.5" cy="459.7" r="0.6"/><circle cx="322.0" cy="463.5" r="0.7"/><circle cx="327.9" cy="461.1" r="0.6"/><circle cx="328.5" cy="452.8" r="0.5"/><circle cx="335.8" cy="451.4" r="0.8"/><circle cx="323.0" cy="456.8" r="0.6"/><circle cx="322.6" cy="451.6" r="0.8"/><circle cx="328.2" cy="453.1" r="0.5"/><circle cx="335.6" cy="453.5" r="0.6"/><circle cx="333.1" cy="459.2" r="0.6"/><circle cx="342.3" cy="457.3" r="0.7"/><circle cx="329.5" cy="454.6" r="0.5"/><circle cx="330.5" cy="457.7" r="0.7"/><circle cx="323.7" cy="458.1" r="0.5"/><circle cx="338.9" cy="461.8" r="0.5"/><circle cx="328.4" cy="454.7" r="0.7"/><circle cx="332.0" cy="450.3" r="0.6"/><circle cx="334.0" cy="464.3" r="0.8"/><circle cx="331.4" cy="463.8" r="0.6"/><circle cx="321.6" cy="455.9" r="0.6"/><circle cx="332.9" cy="458.6" r="0.7"/></g></g>
<g transform="rotate(0 320.2 480.1)"><ellipse cx="320.2" cy="480.1" rx="23" ry="17.8" fill="#d4982f"/><g fill="#fce98f"><circle cx="316.8" cy="469.1" r="0.5"/><circle cx="325.5" cy="480.1" r="0.7"/><circle cx="331.6" cy="485.9" r="0.5"/><circle cx="316.6" cy="470.3" r="0.7"/><circle cx="306.2" cy="484.3" r="0.8"/><circle cx="328.0" cy="485.5" r="0.8"/><circle cx="319.6" cy="472.9" r="0.6"/><circle cx="323.0" cy="479.4" r="0.7"/><circle cx="322.7" cy="477.2" r="0.6"/><circle cx="316.5" cy="487.9" r="0.6"/><circle cx="332.5" cy="472.6" r="0.6"/><circle cx="322.2" cy="478.9" r="0.5"/><circle cx="313.0" cy="470.7" r="0.7"/><circle cx="335.1" cy="479.5" r="0.5"/><circle cx="319.5" cy="468.0" r="0.5"/><circle cx="315.7" cy="480.2" r="0.5"/><circle cx="307.8" cy="481.3" r="0.8"/><circle cx="327.2" cy="485.9" r="0.8"/><circle cx="321.2" cy="471.9" r="0.5"/><circle cx="315.8" cy="476.4" r="0.7"/><circle cx="315.1" cy="474.8" r="0.7"/><circle cx="312.2" cy="484.4" r="0.7"/><circle cx="320.2" cy="484.0" r="0.7"/><circle cx="306.4" cy="484.8" r="0.5"/><circle cx="318.6" cy="481.4" r="0.6"/><circle cx="316.6" cy="486.9" r="0.7"/><circle cx="336.2" cy="483.1" r="0.7"/><circle cx="324.2" cy="472.4" r="0.7"/><circle cx="312.9" cy="483.7" r="0.5"/><circle cx="317.9" cy="485.2" r="0.6"/><circle cx="332.0" cy="474.1" r="0.7"/><circle cx="326.7" cy="480.6" r="0.6"/><circle cx="317.0" cy="473.6" r="0.7"/><circle cx="325.6" cy="477.2" r="0.6"/><circle cx="320.7" cy="474.4" r="0.7"/><circle cx="319.4" cy="480.6" r="0.6"/><circle cx="332.9" cy="484.6" r="0.7"/><circle cx="305.1" cy="477.9" r="0.5"/><circle cx="315.6" cy="481.4" r="0.5"/><circle cx="321.1" cy="478.7" r="0.8"/><circle cx="308.1" cy="476.6" r="0.5"/><circle cx="332.0" cy="474.1" r="0.5"/><circle cx="321.9" cy="483.1" r="0.6"/><circle cx="332.7" cy="485.3" r="0.6"/><circle cx="318.4" cy="475.4" r="0.7"/><circle cx="308.5" cy="482.8" r="0.6"/><circle cx="334.9" cy="479.4" r="0.7"/><circle cx="317.4" cy="483.5" r="0.5"/><circle cx="331.2" cy="489.3" r="0.5"/><circle cx="324.3" cy="476.7" r="0.7"/><circle cx="320.2" cy="485.7" r="0.7"/><circle cx="307.8" cy="472.3" r="0.5"/><circle cx="319.9" cy="481.9" r="0.5"/><circle cx="331.2" cy="479.1" r="0.6"/><circle cx="312.8" cy="489.0" r="0.7"/><circle cx="321.3" cy="481.3" r="0.5"/><circle cx="325.7" cy="470.7" r="0.5"/><circle cx="320.9" cy="485.7" r="0.7"/><circle cx="320.1" cy="475.4" r="0.6"/><circle cx="321.5" cy="492.4" r="0.6"/><circle cx="325.9" cy="478.3" r="0.7"/><circle cx="305.9" cy="475.0" r="0.6"/><circle cx="322.1" cy="491.1" r="0.8"/><circle cx="312.5" cy="479.8" r="0.5"/><circle cx="305.5" cy="484.3" r="0.6"/><circle cx="309.7" cy="482.8" r="0.5"/><circle cx="328.3" cy="485.2" r="0.8"/><circle cx="325.2" cy="476.1" r="0.7"/><circle cx="325.8" cy="472.5" r="0.6"/><circle cx="324.5" cy="489.5" r="0.7"/><circle cx="321.2" cy="483.3" r="0.5"/><circle cx="327.4" cy="469.7" r="0.6"/><circle cx="310.2" cy="473.6" r="0.5"/><circle cx="310.8" cy="479.2" r="0.8"/><circle cx="327.8" cy="489.9" r="0.5"/><circle cx="308.5" cy="472.5" r="0.5"/><circle cx="319.8" cy="480.1" r="0.6"/><circle cx="304.2" cy="481.2" r="0.6"/><circle cx="331.4" cy="474.6" r="0.7"/><circle cx="318.3" cy="482.1" r="0.7"/><circle cx="329.3" cy="486.1" r="0.5"/><circle cx="309.3" cy="473.6" r="0.8"/><circle cx="321.7" cy="483.7" r="0.6"/><circle cx="326.5" cy="479.3" r="0.6"/><circle cx="318.5" cy="481.3" r="0.6"/><circle cx="316.8" cy="487.2" r="0.7"/><circle cx="317.1" cy="475.9" r="0.7"/><circle cx="306.8" cy="477.7" r="0.5"/><circle cx="317.8" cy="489.6" r="0.6"/><circle cx="309.6" cy="479.9" r="0.7"/><circle cx="318.9" cy="468.9" r="0.7"/><circle cx="329.6" cy="475.3" r="0.5"/><circle cx="310.0" cy="488.5" r="0.7"/><circle cx="317.3" cy="478.0" r="0.5"/><circle cx="315.2" cy="474.3" r="0.5"/><circle cx="326.0" cy="479.3" r="0.8"/><circle cx="308.6" cy="471.5" r="0.7"/><circle cx="322.0" cy="484.4" r="0.8"/><circle cx="310.8" cy="483.3" r="0.7"/><circle cx="309.7" cy="474.0" r="0.6"/><circle cx="318.1" cy="490.2" r="0.5"/><circle cx="317.9" cy="469.3" r="0.5"/><circle cx="335.7" cy="480.3" r="0.5"/><circle cx="313.4" cy="479.0" r="0.5"/><circle cx="320.1" cy="482.2" r="0.7"/><circle cx="321.9" cy="469.4" r="0.5"/><circle cx="318.8" cy="482.3" r="0.7"/><circle cx="336.0" cy="478.2" r="0.7"/><circle cx="312.5" cy="475.0" r="0.5"/><circle cx="331.8" cy="482.0" r="0.8"/><circle cx="329.1" cy="479.3" r="0.6"/><circle cx="325.2" cy="476.5" r="0.7"/><circle cx="312.7" cy="475.9" r="0.6"/><circle cx="322.5" cy="482.9" r="0.6"/><circle cx="334.6" cy="479.3" r="0.5"/><circle cx="320.4" cy="476.8" r="0.7"/><circle cx="333.8" cy="474.4" r="0.8"/><circle cx="332.2" cy="479.7" r="0.5"/><circle cx="319.9" cy="489.8" r="0.7"/><circle cx="324.3" cy="478.2" r="0.8"/><circle cx="310.1" cy="475.9" r="0.5"/><circle cx="313.8" cy="486.4" r="0.7"/><circle cx="315.0" cy="471.6" r="0.7"/><circle cx="315.6" cy="484.9" r="0.8"/><circle cx="314.9" cy="472.6" r="0.8"/><circle cx="328.9" cy="472.5" r="0.8"/><circle cx="308.5" cy="488.2" r="0.7"/><circle cx="312.4" cy="483.1" r="0.5"/><circle cx="332.5" cy="471.9" r="0.6"/><circle cx="324.0" cy="479.1" r="0.6"/><circle cx="332.2" cy="479.7" r="0.5"/><circle cx="319.3" cy="479.4" r="0.7"/><circle cx="309.8" cy="475.2" r="0.7"/><circle cx="332.6" cy="486.8" r="0.7"/><circle cx="324.8" cy="477.2" r="0.5"/><circle cx="317.5" cy="468.2" r="0.6"/><circle cx="320.6" cy="487.3" r="0.5"/><circle cx="304.2" cy="481.4" r="0.7"/><circle cx="324.7" cy="491.6" r="0.8"/></g></g>
<path d="M213,485.1 L237.9,485.1 L234.9,499.5 L216,499.5 Z" fill="#f2c81e"/>
<circle cx="218.4" cy="480.8" r="5.4" fill="#f5233f"/><circle cx="232.4" cy="480.8" r="5.4" fill="#f22a55"/><circle cx="225.4" cy="480.4" r="5.6" fill="#f5233f"/><rect x="213.4" y="482.4" width="24" height="3" fill="#f5233f"/><circle cx="221.8" cy="473.9" r="5.2" fill="#f7273f"/><circle cx="229.4" cy="474.4" r="5.2" fill="#f3357a"/><circle cx="225.7" cy="466.8" r="5.6" fill="#f540c4"/><rect x="216.9" y="484.1" width="0.8" height="0.8" fill="#6cc5ea"/><rect x="228.4" y="476.2" width="0.8" height="0.8" fill="#f6a54a"/><rect x="217.6" y="481.5" width="0.8" height="0.8" fill="#c05adf"/><rect x="230.2" y="479.5" width="0.8" height="0.8" fill="#f9c06a"/><rect x="230.2" y="481.3" width="0.8" height="0.8" fill="#6cc5ea"/><rect x="220.8" y="470.5" width="0.8" height="0.8" fill="#f6a54a"/><rect x="224.6" y="473.2" width="0.8" height="0.8" fill="#c05adf"/><rect x="233.5" y="475.7" width="0.8" height="0.8" fill="#f9c06a"/><rect x="215.5" y="482.4" width="0.8" height="0.8" fill="#6cc5ea"/><rect x="224.5" y="464.7" width="0.8" height="0.8" fill="#f6a54a"/><rect x="222.1" y="480.2" width="0.8" height="0.8" fill="#c05adf"/><rect x="233.1" y="476.7" width="0.8" height="0.8" fill="#f9c06a"/><rect x="220.0" y="480.0" width="0.8" height="0.8" fill="#6cc5ea"/><rect x="226.1" y="472.1" width="0.8" height="0.8" fill="#f6a54a"/><rect x="228.3" y="464.4" width="0.8" height="0.8" fill="#c05adf"/><rect x="220.4" y="476.9" width="0.8" height="0.8" fill="#f9c06a"/><rect x="230.4" y="466.8" width="0.8" height="0.8" fill="#6cc5ea"/><rect x="230.5" y="483.8" width="0.8" height="0.8" fill="#f6a54a"/><rect x="226.9" y="466.2" width="0.8" height="0.8" fill="#c05adf"/><rect x="231.0" y="479.8" width="0.8" height="0.8" fill="#f9c06a"/><rect x="221.8" y="469.1" width="0.8" height="0.8" fill="#6cc5ea"/><rect x="221.7" y="470.9" width="0.8" height="0.8" fill="#f6a54a"/>
<path d="M246.4,497.3 L271.6,497.3 L268.5,511.9 L249.5,511.9 Z" fill="#f2c81e"/>
<circle cx="252" cy="493" r="5.4" fill="#f5233f"/><circle cx="266" cy="493" r="5.4" fill="#f22a55"/><circle cx="259" cy="492.6" r="5.6" fill="#f5233f"/><rect x="247" y="494.6" width="24" height="3" fill="#f5233f"/><circle cx="255.4" cy="486.1" r="5.2" fill="#f7273f"/><circle cx="263" cy="486.6" r="5.2" fill="#f3357a"/><circle cx="259.3" cy="479" r="5.6" fill="#f540c4"/><rect x="253.0" y="495.0" width="0.8" height="0.8" fill="#6cc5ea"/><rect x="266.1" y="490.2" width="0.8" height="0.8" fill="#f6a54a"/><rect x="262.3" y="486.2" width="0.8" height="0.8" fill="#c05adf"/><rect x="259.2" y="494.5" width="0.8" height="0.8" fill="#f9c06a"/><rect x="259.2" y="478.9" width="0.8" height="0.8" fill="#6cc5ea"/><rect x="262.3" y="476.8" width="0.8" height="0.8" fill="#f6a54a"/><rect x="250.6" y="488.8" width="0.8" height="0.8" fill="#c05adf"/><rect x="254.7" y="480.7" width="0.8" height="0.8" fill="#f9c06a"/><rect x="264.0" y="496.4" width="0.8" height="0.8" fill="#6cc5ea"/><rect x="262.4" y="478.9" width="0.8" height="0.8" fill="#f6a54a"/><rect x="256.4" y="476.6" width="0.8" height="0.8" fill="#c05adf"/><rect x="251.1" y="494.9" width="0.8" height="0.8" fill="#f9c06a"/><rect x="255.8" y="476.1" width="0.8" height="0.8" fill="#6cc5ea"/><rect x="249.5" y="493.2" width="0.8" height="0.8" fill="#f6a54a"/><rect x="249.2" y="495.6" width="0.8" height="0.8" fill="#c05adf"/><rect x="253.3" y="489.2" width="0.8" height="0.8" fill="#f9c06a"/><rect x="266.6" y="490.1" width="0.8" height="0.8" fill="#6cc5ea"/><rect x="265.2" y="493.1" width="0.8" height="0.8" fill="#f6a54a"/><rect x="259.8" y="481.1" width="0.8" height="0.8" fill="#c05adf"/><rect x="262.8" y="484.5" width="0.8" height="0.8" fill="#f9c06a"/><rect x="255.3" y="484.3" width="0.8" height="0.8" fill="#6cc5ea"/><rect x="254.5" y="489.7" width="0.8" height="0.8" fill="#f6a54a"/>
</g>
</svg>
</body>
</html>
